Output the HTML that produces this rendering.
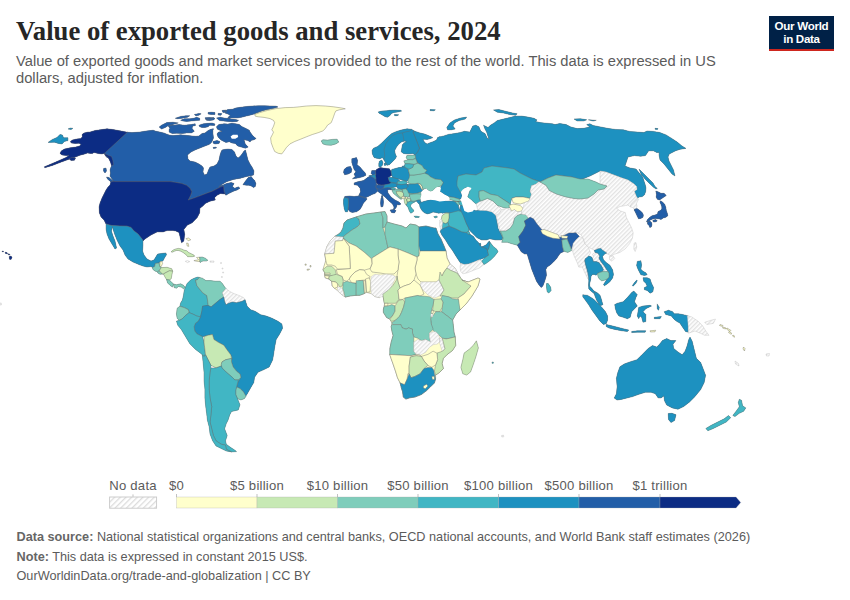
<!DOCTYPE html>
<html><head><meta charset="utf-8"><style>
html,body{margin:0;padding:0;background:#fff;}
body{width:850px;height:600px;position:relative;overflow:hidden;font-family:"Liberation Sans",sans-serif;}
.t{position:absolute;left:16px;top:14.8px;font-family:"Liberation Serif",serif;font-weight:700;font-size:26.7px;line-height:32px;color:#262626;white-space:nowrap;letter-spacing:0px;}
.s{position:absolute;left:16px;top:52.5px;font-size:14.72px;line-height:17.5px;color:#5b5b5b;white-space:nowrap;}
.f{position:absolute;left:16.5px;font-size:12.7px;line-height:15px;color:#5b5b5b;white-space:nowrap;}
.f b{font-weight:700;color:#666;}
.logo{position:absolute;left:769px;top:16px;width:65px;height:33.2px;background:#002147;border-bottom:2.6px solid #ce261e;color:#fff;font-weight:700;font-size:11.6px;line-height:12.2px;text-align:center;}
.logo div{padding-top:4.3px;letter-spacing:-0.3px;}
svg{position:absolute;left:0;top:0;}
.c{stroke:#6a6a6a;stroke-opacity:.8;stroke-width:.5;stroke-linejoin:round;}
.lg{font-family:"Liberation Sans",sans-serif;font-size:13.1px;letter-spacing:.25px;fill:#5b5b5b;}
</style></head><body>
<div class="t">Value of exported goods and services, 2024</div>
<div class="s">Value of exported goods and market services provided to the rest of the world. This data is expressed in US<br>dollars, adjusted for inflation.</div>
<div class="logo"><div>Our World<br>in Data</div></div>
<svg width="850" height="600" viewBox="0 0 850 600">
<defs><pattern id="hatch" patternUnits="userSpaceOnUse" width="3" height="3" patternTransform="rotate(45)"><rect width="3" height="3" fill="#fff"/><rect x="0" y="0" width="1.35" height="3" fill="#e2e2e2"/></pattern><pattern id="hatch2" patternUnits="userSpaceOnUse" width="4" height="4" patternTransform="rotate(45)"><rect width="4" height="4" fill="#fff"/><rect x="0" y="0" width="1.3" height="4" fill="#dcdcdc"/></pattern></defs>
<g id="map">
<clipPath id="landclip"><path d="M766.5,356 769,356 769.5,353.5 766,354ZM742.6,405.8 741.5,400.3 739.3,399.3 738.3,402.5 739.3,406.8 736.1,411.2 732.8,415.5 735,416.6 739.3,413.3 743.7,411.2 745.8,407.9ZM743,349 744.5,351 745,348.5 743.5,347ZM735.5,364 739,366 738.5,363.5 735,361ZM732.5,336 734.3,337.2 735,336.5 733,335ZM719.5,325.5 722.5,326.5 723,325.5 720,324.5ZM722.5,328 725.5,329 725.8,328.5 729.3,331 728.5,332.5 731,334.3 732,333.5 729.6,331.9 731,330.5 727,328 726.9,328.3 723,327ZM730.7,417.7 728.5,415.5 724.2,418.8 717.7,422 711.2,425.3 705.8,428.5 707.9,430.7 713.3,428.5 719.8,425.3 726.3,422ZM711.2,320.2 704.7,322.3 706.8,324.5 713.3,323.4 715.5,319.1ZM688.4,332.2 688.4,333.2 691.7,332.1 695,331 700.3,333.2 704.7,335.3 709,335.3 705.8,331 702.5,325.6 698.2,321.3 691.7,316.9 688.3,316.1 688.3,315.9 682.6,314.5 678.4,313.8 674.2,313.8 672.7,311.7 668.5,310.2 664.2,311.7 665.7,314.5 671.3,315.9 674.2,319.4 677,321.6 679.8,323 682.6,327.2 685.5,331.5ZM658.2,398 661,398 663.8,395.9 664.5,400.8 666.7,405.1 672.3,407.9 678,409.3 683.7,406.5 689.3,402.2 695,396.6 700.7,389.5 704.2,382.4 705.6,375.3 703.5,369.7 700.7,362.6 696.4,358.3 695,352.7 692.2,341.3 690,337.1 688.6,339.9 687.2,345.6 685.1,351.2 682.2,354.8 678,352 673.7,348.4 673,344.2 675.9,340.6 670.9,340.6 666.7,338.5 662.4,340.6 659.6,344.2 656.7,347 652.5,345.6 648.2,348.4 644,352.7 640.5,356.2 636.9,359.7 629.8,361.9 624.2,364 619.9,366.8 617.8,372.5 616.4,378.2 617.1,386.7 616.4,393.7 614.2,398 617.1,400.1 621.3,399.4 632.7,396.6 638.3,394.5 645.4,392.3 651.1,392.3 655.3,393.7ZM350,211.8 352.4,212.4 356.5,211.8 360,209.4 361.8,206.5 363.5,202.9 365.9,200.6 367.1,198.8 364.9,198.1 369.4,195.9 372,194.5 375,193.5 377.8,190.9 378.5,192 380,193 382,194.5 383.2,195.5 383.2,195.5 385,197 389,201 392.5,204 394,207 393.5,209.6 390,210 391.5,212.5 394.5,213 396,210.5 394.5,209.7 396.5,207 397,204.5 399,205 401,204 399,202 395,200 391,197 388,193 387.5,190 389,189.5 392.1,189.9 392.4,191.6 393.5,193.4 395.6,195.2 398.4,197.6 401.2,199.4 402.2,198.3 403,199.1 404.1,198.3 404.4,201.9 405.1,204 406.2,205.1 406.9,206.1 407.9,207.2 408.6,208.9 409.3,211.1 410.8,213.2 412.2,212.5 413.9,211.1 413.2,209.6 411.8,208.2 410.4,206.1 411.2,204.2 412.9,202.9 414.5,202.2 416.1,200.8 419.6,204.7 419.9,206.8 421,208.9 422.4,211.1 424.5,212.8 427.3,213.9 430.2,213.2 433,212.1 435.8,212.5 438.6,213.2 441.5,212.8 442.1,213.2 446.3,212.7 442,215.5 441.4,219 439.7,220.2 439.7,226 440.3,228 441,229.5 440.3,231.8 442,235.3 445.5,240 449,245.8 452.5,250.5 455.4,255.2 458.3,259.8 460.7,263.3 460.1,266.8 460.7,271.5 463,273.8 467.7,272.7 473.5,270.3 479.3,268 484,264.5 486.3,263.3 491,259.8 494.5,256.3 498,251.7 496.8,249.3 493.3,246.4 491,243.5 489.3,241.2 488.1,242.3 486.3,244.7 481.7,247 480.8,245.9 480.6,243.3 479.1,243.6 478.2,242.3 475.8,240 473.5,236.5 469.4,233.8 470,233.6 468.8,231.3 468.8,228.3 470,230.7 477,237.7 481.7,240 486.3,240 489.8,238.8 495.7,240 502.5,240 501.7,242.3 507.4,242.3 511.7,243.7 517.3,245.2 521.2,251.8 524.7,254.1 527.1,254.1 528.2,257.6 531.8,269.4 534.1,275.3 536.5,281.2 538.8,284.7 541.2,287.6 542.9,285.9 544.7,281.2 546.5,275.3 545.9,269.4 547.1,267.1 550.6,264.7 556.5,258.8 558.8,255.3 560.6,252.9 563.5,251.8 563.4,251.2 567.9,252.4 571.5,250.6 571.2,249.7 572.3,246.4 572.9,246.6 572.4,250.6 574.1,255.9 577.6,263.5 578.8,267.1 582.4,267.1 584.5,272 588,279 588.6,278.9 588.8,280.8 588.5,285 588.8,289 591.8,291.8 594.1,293.5 594.7,295.3 596.5,300 598.7,303.4 598.3,303.8 593.4,298.9 587.7,295.4 582.8,294.7 582.8,296.8 584.9,299.6 588.5,304.6 592,310.2 596.2,315.9 599.8,320.9 603.3,324.4 606.2,323.7 607.6,320.2 607.6,315.9 605.5,311.7 601.9,307.4 600.2,305.7 602.9,304.7 601.2,298.8 600,295.3 597.6,292.9 595.3,291.8 593.5,290.5 591.6,288.1 589.7,286.3 589.7,283.5 590.6,279.9 591.1,276.2 592.5,274.4 594.3,274.4 596.1,275.3 597.5,273.5 598,276.7 599.3,279 601.6,280.8 604.4,280.3 607.1,279 605.3,281.7 603.5,284.5 604.4,285.8 607.1,284 609.9,281.7 612.6,278 613.5,274.4 612.6,269.8 609.9,265.2 606.2,262.5 603.5,259.7 602.5,256.5 604.4,254.2 606,253.3 607.6,254.1 611.7,256.1 609.4,256.5 609.5,259.5 612,261.2 614.7,258.5 612.5,255.2 614.7,254.1 620,252.4 625.3,248.8 629.7,243.5 632.4,238.2 633.2,232.9 631.5,227.6 628.8,222.4 626.2,217.1 625.3,212.6 620,210.9 616.5,208.2 620,206.5 625.3,205.6 627.9,205 630.3,206.8 632.5,207.5 634.6,209.6 634,209.8 635.5,212.4 636.3,214.3 637.4,216.5 638.5,218.8 640.8,218.4 643,217.3 643.4,215 642.3,212.8 640,210.5 637,208.6 636.1,209 637,206 636.3,203.8 637.4,201.5 638.5,199.3 637.4,198.1 639.3,197 642.3,196.6 644.5,194.8 645.6,191.8 646,188 645.3,185 642.3,175.8 642.4,175.8 645,179 650,184 653.5,187.3 655.8,188.8 657.3,188.4 655,186.5 653,183 639,169 641.6,175.5 641.3,175.6 636,169 630,168 625,166 628,157.1 634.4,155.6 640.7,156.3 645.5,155.6 648.7,150.8 653.4,150.8 656.6,152.4 659,152.4 659,155 660,160 664,164 672,174 675,176 673.5,170 669,161 668,157 669.3,154 675.6,150.8 680.4,149.2 686,148.4 682,146 677.2,142.1 672.5,138.9 666.1,134.9 659.8,132.5 653.4,131.4 647.1,131 643.9,132.5 637.5,132.1 629.6,131.4 623.3,129.8 615.3,129.4 607.4,128.3 599.4,126.7 593.1,125.4 589.9,123.8 586.7,124.6 589.9,127 583.6,128.3 577.2,128.6 570.9,127 566.1,124.6 559.8,123.5 555,124.6 552.3,123.7 546.2,123.2 540.1,122.6 535.5,121.4 537,119.9 534,118.3 527.9,117.1 521.7,116.1 515.6,116.1 503.4,119.1 497.3,120.6 494.2,122.9 490.4,125.2 488.1,127.5 485,126 483.5,125.2 485,129 486.6,132.1 488.1,136.7 488.9,139 487.3,138.2 485,133.6 482,132 480.5,130.6 478.9,126.8 475.9,125.2 472.8,126 469.8,132.1 464.4,131.3 460.6,132.4 454.5,133.6 448.3,134.4 443.8,135.9 440.7,136.7 440,136.5 437.6,137.6 436.5,140 432.9,141.8 429.4,142.9 427.1,144.1 424.7,142.4 422.9,139.4 424.7,139.2 427.1,139.6 430.6,138.5 432.9,137.6 429.4,135.9 424.7,134.1 420,132.9 414.7,131.2 411.8,129.4 407.1,128.8 401.2,130 396.5,131.4 391.8,133.5 388.2,136.5 381.2,143.5 377.6,146.5 373.5,148.2 372,150.6 372.4,154.1 374.1,157.6 376.5,158.2 380,158.8 382.4,157.6 384.1,160 385.6,163.1 384,163.5 384.5,165.5 386.9,164.9 387.1,165.3 389.4,164.7 391.8,162.4 395.3,158.8 396.5,156.5 395.3,154.1 394.7,150.6 396.5,147.1 398.8,144.1 401.8,141.8 404.7,140.9 406.5,141.8 404.1,142.9 402.4,144.7 401.8,148.2 401.2,151.8 403.5,153.5 408.2,154.1 412.9,153.5 415,155 406.8,155.6 406.2,157.9 407.9,159.7 403.8,160.9 405,163.8 404.5,165.8 402,166.2 402.3,167.3 398.8,167.6 391.8,169.4 391.2,171.8 389.4,168.8 384.7,168.2 380.1,167.6 380.2,167.5 376.5,169.4 375.9,170.6 371.8,170.6 371.2,173.5 372.9,175.3 368.8,175.6 370.6,175.9 368.2,177.1 363.5,180.6 357.6,181.8 354.1,182.9 354.1,184.7 357.6,185.3 360,188.2 360.6,191.8 358.5,195.9 354.1,196.5 349.4,195.9 344.7,196.5 344.9,197.7 344.1,197.6 343.5,200 343.5,203.5 344.1,208.2 345.3,211.8 347.6,211.8 347.9,209.1ZM605.3,271.6 602.5,271.6 603.5,269.8ZM600,184 596,182 588,179 582.7,179 582.7,178.9 590,176 600,171ZM594,249.9 595.2,252.4 592.5,254.2 593.4,256.5 592.5,258.8 591.6,257 588.5,256 590.6,252.9 588.2,247.1ZM577.6,232.9 581.2,234.7 582.9,238.2 579.4,236.5 575.5,232.5ZM520.2,204.1 524.4,202.7 523,208.3 520.2,205.5 517.3,204.8 513.1,204.1 510.6,204.9 510.2,204.1 511.7,198.4 513.1,202.7 515.9,203.4ZM501.7,209.7 497.5,205.5 503.2,207.6 507.4,208.3ZM509.8,207.5 510.2,208.3 511.7,211.2 507.4,208.3ZM499.8,232 498,228.3 497.3,224.3 498.1,224.1 500.5,231.7ZM479.3,259.8 485.2,257.5 481.7,261ZM464.9,187.8 465.7,187.9 467.9,186.8 471.5,188 470.3,190.3 470,190.4 469.2,192.7 467.7,197 472,200.5 476.2,204.1 477.9,210.4 475.8,210.8 473.8,210 472.6,211.5 467.9,212.6 464.4,210.9 463.2,207.4 462.1,203.8 461.2,201.2 460.9,201.5 459.1,199.1 460.9,199 462.1,195.6 460.9,192.1 462.6,189.7 464.2,188.7ZM458.5,205.5 459.5,204 460.7,205.9 459.8,207.2 460.7,210.1 460.4,210.2 458.5,207.4ZM420.5,198.8 420.3,198.5 421.2,195.6 421.3,194.4 420.9,192.1 423.2,189.7 423.2,189.7 423.8,189.1 426.2,188.5 427.9,190.3 430.3,191.5 432.6,190.9 435,188.5 435.3,188.4 435.2,188.2 437.5,186.9 438.4,187 441.5,185.6 440.4,187.5 441,188.8 440.3,189.1 440.9,189.7 440,191 441.5,192.5 442.6,193.3 444.4,194.4 447.9,196.2 448,196.3 449.1,196.8 449.2,197.5 449.7,197.9 449.5,198.7 449.7,199.5 453.4,200.5 453.2,201.3 450.3,200.9 446.8,200.9 445.5,200.8 444.4,200.9 439.7,201.5 435,200.3 430.7,199.8 430.2,199.8 427.3,200.5 424.5,201.2 421.5,202.3 420.2,200.3ZM407.9,180.5 408.2,181.8 408.2,181.8 408.5,183.2 411.5,183.8 407.8,184.8 407.6,184.1 405.9,184.1 407.6,182.4 406.3,181.8ZM407.5,197.4 409.6,196.7 410.8,199.4 409,198.3 408.1,198.6ZM403.6,196.2 405.5,196.9 405.5,200.5ZM400,181.2 397.6,178.8 404.3,180.5ZM395.3,187.1 396.5,186.5 398.4,189.4 397,189.2 394.9,189.9 395.6,188.5 392.3,187.4ZM388.2,177.6 391.8,175.3 392.9,177.6ZM376.3,184.8 376.3,182.4 378.3,184.9ZM382.4,165.3 382.7,163.8 382.7,163.8 382.8,162.8 382.9,162.4 381.8,160 379.4,161.2 378.8,163.5 378.8,166.5 380.6,167.1ZM517.2,113.8 512.6,113 506.5,111.5 498.8,109.5 493.5,109.9 497.3,112.2 503.4,113 509.5,114.5 515.6,115.3ZM381.5,195.8 381.5,197.9 381,198 380.5,203 381,207 383,206.5 383.5,202 383,197.5 382.9,197.5 382.7,195.6ZM606.2,326.5 609,328 614.7,329.4 621.7,330.8 627.4,331.5 628.8,330.1 623.2,328.7 617.5,327.2 611.8,325.8 606.2,324.4ZM365.3,172.9 362.9,170.6 360,167.1 357.1,164.7 357.6,160.6 356.5,157.6 351.8,158.8 351.8,162.4 352.9,165.9 354.1,169.4 355.9,171.8 354.1,174.1 355.3,176.5 352.4,178.8 356.5,178.2 360,177.6 363.5,176.5 365.9,175.3ZM674.6,420.5 676,414.7 672,413.3 668.2,413.5 668.5,419.5 671,422.6ZM649.8,220.6 649.7,220.3 650.5,220 650.5,220 652.6,219.1 652.8,219 654.9,218.6 654.9,218.6 655,218.6 656.4,218.3 656.5,218.7 658.8,218.8 661,219.5 663.3,218 665.9,217.3 667.8,215.8 667.4,213.5 666.3,210.5 665.9,207.5 664.8,204.5 662.5,201.9 660.3,200.8 659.9,202.3 661,204.5 661.8,206.8 661.8,209 660.3,210.5 658,211.6 657.5,214 655,215 652,215.8 649.8,217.3 647.5,219.5 646.4,221.8 647.5,221.8 647.5,224 649,225.5 649.8,227.4 651.3,227 652,224.8 651.6,222.5 649.5,220.8ZM652.8,220.3 653.1,221.8 655,222.1 657.3,221 655.8,219.5ZM661.8,198.5 664,197 666.3,195.5 664,193.3 661,193.3 658,191.8 655.8,191 656.5,194.8 656.1,197 657.3,199.3 659.5,200 659.8,199.8 660.7,199.2 660.7,199.2ZM654.3,318.7 660,318.7 661.4,316.6 654.3,317.3ZM657.2,308.8 658.6,310.2 659.3,307.4 657.2,303.9ZM655,128.3 655,129.2 657.5,129.4 658,128.6ZM650.5,332 655,331.8 655.7,330.3 650,330.8ZM653.6,287.6 651.5,283.3 650.1,279.1 647.2,277.7 643,277.7 643.7,281.2 645.8,283.3 647.2,286.2 644.4,287.6 644.4,289.7 647.2,290.4 650.1,293.2 652.9,291.8ZM643,311.7 645.8,308.8 651.5,306 650.1,305.3 643,306 638.7,307.4 638,311.7 637.3,315.9 638.7,318.7 640,316 641.6,317.3 643,322.3 645.8,321.6 645.8,314.5ZM640.9,269.2 641.6,264.9 640.9,260.7 637.3,261.4 636.6,265.6 638,269.2 639.4,272 640.9,274.8 644.4,275.5 647.2,274.8 645.8,272.7 643,271.3ZM645.1,332.2 645.8,330.8 637.3,330.8 631.7,331.5 631.7,332.6 637.3,332.2ZM637.3,306 634.5,301.7 635.9,297.5 637.3,294.7 633.8,291.1 631.7,292.5 627.4,297.5 623.2,301.7 617.5,303.2 614.7,304.6 615.4,308.8 616.8,313.1 618.9,315.9 623.2,317.3 627.4,318.7 630.2,317.3 631.7,311.7 634.5,308.8ZM632.4,285.5 633.1,286.2 635.9,283.3 637.3,280.5 636.6,280.2 634.5,282.6ZM636,242.6 634.1,243 633.8,249 635.2,251.5 636.8,247ZM580.4,118.7 574,119 577.2,121 583.6,121 586.9,119.7 585.8,119.6ZM593.1,121.1 596.3,120.3 588.3,119.8ZM547.1,291.8 548.8,292.9 551.2,290.6 550.6,287.1 548.2,283.5 546.5,283.5 546.5,287.1ZM501.8,437 503.8,436.8 503.5,435.2 501.5,435.5ZM492,363.3 493.3,363.3 493.3,362 492,362ZM324.6,274.6 324.7,274.6 324.7,275.5 325.2,277.8 328.7,279 331.7,281.3 332.2,286 334.6,288.3 337.5,290.6 341,294.1 344.5,296.5 345.1,297.1 350.3,295.9 356.2,295.3 359.7,295.3 364.3,293.6 366.6,292.4 371.3,293.6 374.8,296.5 379.5,297.6 383.1,296.2 383.4,298.1 384.1,303.3 384.7,303.3 384.1,306.5 383.4,309.1 383.4,312.4 386.6,317.5 389.2,318.8 389.9,319.5 391.8,322.7 391.8,324.6 391.2,326.6 391.8,330.5 393.1,335.6 391.2,342.1 389.9,348.6 389.7,354.4 391,358.3 392.9,363.5 395.5,371.2 397.5,377.7 400.1,382.9 401.4,388.1 402.6,391.9 403.3,397.1 405.9,399.1 409.8,397.8 414.9,397.1 421.4,394.5 426.6,390.6 430.5,386.8 434.4,382.9 435.6,379 435.6,375.1 439.5,372.5 443.4,368.6 442.1,363.5 443.4,358.3 447.3,354.4 452.5,350.5 455.7,345.4 455.2,336.9 453.9,331.8 453.3,325.3 452.6,320.1 456,314 466,304 472,296 478,286 480,279 478,278 468,282 462,280 460,277 455,268 450,264 447,258 446,251 444,246 441,239 438,234 436,228 434,228 426,226 419,227 416,225 410,224 406,228 402,226 394,224 387,222 387,216 385,211.6 381,212 374,213 366,214 356,217 347,220 344,223 343,228 341,232 338,234.5 334.6,236.4 330.5,240.5 327,246.3 324.7,253.9 325.2,256.8 325.8,260.3 322.9,269.7 325.1,273.3 324.6,273.3ZM473.2,364.8 475.8,357 478.4,347.9 476.4,340.8 473.2,345.4 469.3,349.2 464.1,353.1 462.8,359.6 460.9,367.4 462.8,373.8 466.7,375.1 470.6,371.9ZM460.6,118 454.5,119.9 449.9,122.9 446.8,127.5 447.6,129.8 451.4,129.8 455.2,129 452.9,126 454.5,122.9 459.1,120.6 465.2,119.1 466.7,117.1ZM435.1,218.1 437.6,217 436.5,216 433.7,216.7ZM430,110.6 434,110.8 435.4,109.8 430,109.6ZM416.1,216.1 413.9,216.3 415.3,217.4 418.9,217.5 419.6,216.7ZM401.7,111.1 400.5,110.3 394.7,110 389.8,110.3 386.5,110.7 381.5,111.1 378.2,111.9 379.1,113.2 381.5,114.4 384.8,116.5 387.3,117.3 389.8,115.7 391.4,113.6 393.9,112.4 398,111.9ZM394.7,115.7 397.2,115.7 398.8,114.8 394.3,114.4ZM343.5,172.4 344.7,174.7 348.2,174.1 351.2,172.4 351.8,169.4 350.6,166.5 347.1,167.1 344.1,169.4ZM218,115 221,115.3 221.8,113.6 218,113.4ZM224.9,112.2 224.9,113 227.9,114.1 230.2,115.3 227.1,118.4 224.1,118 220.3,117.2 216.5,118 219.5,120.6 223.3,121 227.9,121.4 232.5,121.8 237.1,121.4 238.6,120.3 235.6,119.5 230.3,118.8 230.4,118 237.1,118 241.7,117.2 246.3,116.1 250.9,114.9 254.5,113.9 255.3,116.2 258.2,116.8 264.1,117.4 270,118.6 273.5,120.4 274.7,122.7 273.5,126.2 271.8,129.8 273.5,132.1 272.4,134.5 270.6,138 271.2,142.7 272.9,147.4 274.7,151.5 278.2,153.3 281.8,153.9 284.1,150.9 286.5,147.4 290,143.9 294.7,141.5 300.6,139.2 306.5,136.8 312.4,134.5 318.2,132.7 322.9,130.9 325.3,128.6 327.6,125.1 331.2,122.7 332.4,119.8 333.5,116.8 334.7,113.3 335.9,110.9 339.4,109.8 345.3,108.8 341.8,108 333.5,106.8 325.3,106 315.9,105.6 306.5,106 299.4,106.8 293.5,107.4 285.3,107.6 274.3,108.8 274.1,108.1 278,107 276,106.1 270,105.9 264.6,105.7 258.5,105.7 252.4,106 246.3,106.5 240.2,107.3 235.6,108 232.5,109.2 227.9,109.6 226.1,110.3 226,110 222,110.5 223,112.5ZM322.9,139.8 321.2,140.9 322.9,143.9 326.5,145.1 331.2,145.3 335.9,143.9 338.8,142.1 337.1,139.2 332.4,139.4 327.6,140.1ZM310,265.5 310,267 311,267 311,265.5ZM307,270.2 309,270 309.5,269 307,269.3ZM305,265.2 306.2,265.2 306.2,264 305,264ZM80,155.2 84,154.2 87.6,153 90.4,153.4 92.4,153.6 94,152.5 98,153.5 102,154 104.4,153.2 105.7,155.8 106,156 106.5,157 107.9,157.4 108.3,157.7 110.2,161.6 111.7,166.1 111,167 110,170 110.5,173 110,176 112.8,180.3 112.6,180.5 109,177.5 106.5,177 107.5,179 110.9,181.9 110,185 108,187 106,190 102,198 100,203 99,207 99.4,213 101,217 104,220 106,224 106,229 107,234 109,239 112.6,245 115,249 116.6,248 115,241 113,236 111.4,231 112.4,227.2 114.6,234 117,240 120,246 123,250 125,255 128,259 133,262 139,264.6 143,266 147,267 151,266.6 152.4,267.6 152.9,269.4 155.3,271.2 157.6,271.8 157.8,273 160,274.3 162.9,274.1 163.4,273.9 164.7,276.5 166.5,279.5 167.6,282.9 170,285.3 172.4,287.1 173.5,284.1 171,281.5 169.4,280 171.2,278.8 171.8,275.3 172.7,271.2 171.8,268.8 167.1,267.3 160.7,267.6 162.6,263.5 161.8,261.2 162.9,261 164.7,257.6 166.5,254.7 165.9,252.9 161.2,253.5 157.6,254.1 154,260 151,261 147,259 144,255 142.6,251 143,245 143,241 145,239 151,235 157,232 163,232 167,230.6 173,230.5 175.7,231 179,232.6 180.6,239.2 181.6,242.8 183.9,240.9 184.1,239.1 184.1,239.1 184.7,234.3 183.9,229.4 187.2,225.2 192.2,222.8 197.1,217.8 199.6,212.9 200,208.2 202.9,205.9 205.3,203.5 210,201.2 215.3,200 214.7,197.6 217.1,195.3 220.6,193.5 225.3,194.1 225.9,195.3 228.8,193.5 233.5,191.2 237.1,190 240,188.2 238.2,186.8 234.7,188.2 232.4,186.5 234.1,183.5 231.2,182.4 226.5,183.5 221.7,185.7 221.3,184.9 226.5,181.8 233.5,179.4 240.6,178.2 246.5,176.5 250.7,175.8 250.6,175.7 253.5,175 254,171 252,167 250,164 248,160 245.5,150 244,151 242,154 240,156.5 238,158 236,156 234.5,152 232,149.5 228,149 224,149.5 222,150 221,152 220,155 219,160 217,164 214,166 210,167 208.5,170 207,174 204.5,175 203,172 203.5,168 202,166 199,164 195,162 190,161 188,159 187.5,155 191,152 195,150 205,146 209,144.5 211,143 212,141.5 213.5,138 213,134 212.9,130.6 213.5,128.8 211.2,129.1 208.1,130.6 205,132.9 202,133.6 198.9,135.9 195.9,136.3 192,135.9 188.2,135.6 184.4,135.2 180.6,134.8 176.8,135.2 172.9,135.6 169.9,135.2 167.6,134.4 163.8,132.9 159.9,132.1 156.1,131.3 153.1,130.2 150,130.6 146,131 140,132 132,132.6 127.5,132.2 120,130.8 113,129.5 107,128.8 100,129.8 95,130.5 90,132 88,132 84,133 82,134.6 82.4,136.6 81,138.4 76.4,139 72.4,140 70.4,141.4 71.2,143 75.2,143.4 79.2,143.2 81,144.4 79.6,146 75.6,147 70,147.8 64.4,149 61.2,151 60,153.4 62,155 66,155.6 69,155.4 66,157.4 58,161 51,164 44.4,166.8 44.8,167.8 52.4,165.4 60,162.6 69,159.2 69.5,159 71,160.6 74.4,160.2 75.6,158.2 73.6,157.7ZM174.1,287.6 176.5,288.2 178.5,286.5 181.2,287.1 183.5,288.8 185.3,287.6 184.1,291 183.5,295.3 182.4,300 180.6,303 179.9,306.2 177.1,308.3 176.8,311 176.4,314 177.1,318.2 179.2,320.4 176.4,321.1 177.8,325.3 181.3,329.6 185.6,336.7 189.8,343.7 195.5,349.4 201.2,353.7 202.3,354.8 203.2,363.6 204,372.2 204,380.7 204.9,389.3 204.9,397.9 205.7,406.5 206.6,413.3 207.4,420.2 209.2,427 210,433.9 212.6,440.8 216,445.9 221.2,448.5 226.3,451 231.5,451.9 236.6,451.6 234.9,450.2 229.7,446.8 226.3,444.2 225.5,440.8 227.2,435.6 224.6,428.8 226.3,423.6 228,420.2 229.7,415 231.5,411.6 238.3,409.9 240,404.7 237.5,398.7 240.9,399.9 244.3,398.7 246,396.2 245.8,395.9 246.9,394.5 250.3,388.4 253.8,382.4 254.6,377.3 258,372.2 264,369.6 269.2,367 272.6,360.1 273.5,355 274.8,346.6 276.2,339.5 279.8,333.8 282.6,328.2 281.9,323.9 277.6,321.1 272,318.2 266.3,316.1 260.7,314.7 255,311.2 250.7,309.7 247.2,306.2 245.1,299.8 243.7,297.7 239.4,295.6 233.7,293.5 229.5,291.3 226,288.5 224.7,287.1 222.4,283.5 220,281.2 215.3,281.2 210.6,280.6 205.9,280.6 202.4,278.2 199.4,277.4 197.6,277.1 194.1,278.2 190.6,280 187.1,283.5 185.3,287.6 183.5,285.3 180.6,283.8 176.5,284.7 173.5,284.1ZM210.9,367.9 210.9,365.3 216,367.9ZM204,340.4 203.5,340.4 202.6,336.7 204,336.3ZM188.2,240.8 190.8,239.8 188.5,238 186,238.6ZM248.2,177.6 245.3,181.2 242.9,184.7 246.5,185.3 248.8,185.3 251.2,185.9 253.5,187.6 255.3,186.5 255.9,183.5 254.7,180.6 252.9,178.8 251.2,176.5ZM213,143 215,144 219,143.5 220,141.5 217,140.5 213,141.5ZM225.9,142.4 229.4,141.8 231.8,142.9 235.3,143.5 237.6,145.9 241.2,147.1 245.3,148.2 248.2,147.1 245.3,144.1 244,139.8 247.8,140.5 250.1,142 250.9,140.5 253.9,139.8 256.2,138.6 254.7,137.5 252.4,135.2 250.1,132.1 249.3,130.2 245.5,128.3 241.7,126.4 239.4,124.5 235.6,123.7 231.8,123.3 227.9,124.1 224.1,123.7 218.8,124.5 216.5,126.8 217.2,129.1 220.3,130.6 222,131.5 218.5,132 217,134 218,137 221,140 224,141.5ZM231.8,138.8 230.6,136.5 232.9,134.7 237.6,134.7 238.2,137.1 235.3,138.8ZM222.6,273 223.6,273 223.6,272 222.6,272ZM222,269 223,269 223,268 222,268ZM221.4,277.5 222.4,277.5 222.4,276.5 221.4,276.5ZM220.5,263.5 221.5,263.5 221.5,262.5 220.5,262.5ZM213.5,148.5 216.5,148 216,147 213,147.5ZM211.2,114.5 215,114.5 215,112.5 211.2,112.2 208,112.5 208,114ZM206.2,119.8 206.6,120.3 209.6,120.6 213.5,119.9 215,118.5 213.5,117.6 212.4,117.7 209,117.4 205,117.8 206,119.8ZM212,123 208.1,123.3 203.5,123.7 198.9,125.2 199.7,126.8 202,127.5 205,127.5 208.1,126.8 209.6,125.2 214.5,125.5 215,124ZM210,262.2 214,262.2 214,261 210,261ZM200.4,262.7 201.2,261.6 203.2,261.1 206.3,261.1 207.9,260.3 205.3,258.2 202.2,257 199.6,257.2 196.5,257.5 197.5,258.5 198.6,259.8 195.5,260.3 193.9,260.6 195.5,261.1 198.1,261.4 199.9,261.6ZM198.9,113.4 194.3,114.5 195.9,115.7 198.9,115.3 201.2,113.8ZM182.1,118.3 185.4,117.6 185.4,117.6 187.5,117.2 189.8,115.7 185.9,115.7 180.6,116.4 175.2,118.3 177.5,118.7ZM180.6,120.3 182.9,121 186.7,121.4 191.3,121 195.9,120.6 199.7,120.3 199.7,118.3 196.6,117.2 193.6,118.3 189.8,118.7 184.4,118.7ZM159.2,127.1 161.5,129.1 165.3,127.5 168.1,125.7 169.9,128.3 169.1,129.8 169.1,132.1 172.2,133.6 176.8,133.3 182.1,133.6 186.7,132.9 191.3,132.9 194.3,131.3 192,128.3 192.8,126 195.5,125.5 195.1,123.7 191.3,124.5 188.2,124.8 184.4,125.2 179.1,124.5 172.9,125.2 172.8,124.5 178.3,122.9 172.9,122.2 166.8,122.6 161.5,125.2ZM187.7,256.7 192.4,256.7 194.7,256.2 193.9,255.1 191.3,253.8 188.7,252.5 186.7,250.7 184.1,250.2 181.5,248.9 178.4,248.4 175.8,248.9 173.2,250 171.1,251.8 172.1,252.3 174.2,251.3 176.3,250.5 178.4,250.5 181,251.3 183.5,252.8 185.6,254.4 187.2,255.9ZM187.5,262.6 189.8,261.6 187.5,260.6 185.2,261.3ZM187.2,246 188.8,246.4 188.2,243.4 186.6,243ZM106,168 103.6,168.5 103.5,171 105,173 106.5,171ZM71,129.4 73,128.4 70.4,128 68,129ZM60,134.4 57,137.4 52.4,139.4 48,142.4 54.4,142.2 58.4,143.4 62,144 64.4,141.4 68,140.6 68,137.8 63.6,137.8 62.4,135ZM2,251.7 3.3,251.9 3.3,251.9 3.3,251.9 3.4,251.7 3.5,251.2 2,251ZM5.5,253.4 8,253.9 8,254.6 9.8,255 10,254.2 7.5,253.7 7,252.6 5,252.2ZM9.2,256.5 9.5,259.2 11,259.5 12,257.5 11,256 9.4,256.4 9.4,256.4ZM0,305 1.3,305 1.3,303 0,303Z" clip-rule="evenodd"/></clipPath>
<g clip-path="url(#landclip)"><path d="M127.5,132.2 120,130.8 113,129.5 107,128.8 100,129.8 95,130.5 90,132 88,132 84,133 82,134.6 82.4,136.6 81,138.4 76.4,139 72.4,140 70.4,141.4 71.2,143 75.2,143.4 79.2,143.2 81,144.4 79.6,146 75.6,147 70,147.8 64.4,149 61.2,151 60,153.4 62,155 66,155.6 69,155.4 66,157.4 58,161 51,164 44.4,166.8 44.8,167.8 52.4,165.4 60,162.6 69,159.2 74.4,157.4 80,155.2 84,154.2 87.6,153 90.4,153.4 92.4,153.6 94,152.5 98,153.5 102,154 104.5,153.2 106,155 110,156 112.5,157 113,161 114,165 112.5,165 111.5,161 110,158 106.5,157 104.5,154.5Z" fill="#0c2c84" stroke="#0c2c84" stroke-width="1.6"/>
<path d="M69,158.6 72.4,157.4 75.6,158.2 74.4,160.2 71,160.6Z" fill="#0c2c84" stroke="#0c2c84" stroke-width="1.6"/>
<path d="M48,142.4 52.4,139.4 57,137.4 60,134.4 62.4,135 63.6,137.8 68,137.8 68,140.6 64.4,141.4 62,144 58.4,143.4 54.4,142.2ZM68,129 70.4,128 73,128.4 71,129.4Z" fill="#1d91c0" stroke="#1d91c0" stroke-width="1.6"/>
<path d="M127.5,132.2 132,132.6 140,132 146,131 150,130.6 153.1,130.2 156.1,131.3 159.9,132.1 163.8,132.9 167.6,134.4 169.9,135.2 172.9,135.6 176.8,135.2 180.6,134.8 184.4,135.2 188.2,135.6 192,135.9 195.9,136.3 198.9,135.9 202,133.6 205,132.9 208.1,130.6 211.2,129.1 213.5,128.8 212.9,130.6 213,134 213.5,138 212,141.5 211,143 209,144.5 205,146 200,148 195,150 191,152 187.5,155 188,159 190,161 195,162 199,164 202,166 203.5,168 203,172 204.5,175 207,174 208.5,170 210,167 214,166 217,164 219,160 220,155 221,152 222,150 224,149.5 228,149 232,149.5 234.5,152 236,156 238,158 240,156.5 242,154 244,151 245.5,150 246.5,154 248,160 250,164 252,167 254,171 253.5,175 250,175.9 246.5,176.5 240.6,178.2 233.5,179.4 226.5,181.8 220.6,185.3 218.8,186.5 221.8,185.6 226.5,183.5 231.2,182.4 234.1,183.5 232.4,186.5 234.7,188.2 238.2,186.8 240,188.2 237.1,190 233.5,191.2 228.8,193.5 225.9,195.3 225.3,194.1 224.1,191.8 223.5,186.1 220.6,187.1 217.1,188.8 212.4,191.2 207.6,192.9 202.9,194.7 198.2,196.5 193.5,198.2 188.2,200 190.6,195.3 191.8,191.8 190,188.2 186.5,185.3 181.8,183.5 175.9,182.4 170,181.6 150,181.6 130,181.6 114.5,181.6 112,179 110,176 110.5,173 110,170 111,167 112.5,165 111.5,161 110,158 106.5,157 104.5,153.2ZM242.9,184.7 245.3,181.2 248.2,177.6 251.2,176.5 252.9,178.8 254.7,180.6 255.9,183.5 255.3,186.5 253.5,187.6 251.2,185.9 248.8,185.3 246.5,185.3ZM106.5,177 109,177.5 112,180 114,182.5 111,182 107.5,179ZM103.6,168.5 106,168 106.5,171 105,173 103.5,171ZM159.2,127.1 161.5,125.2 166.8,122.6 172.9,122.2 178.3,122.9 172.9,124.5 168.3,125.6 165.3,127.5 161.5,129.1ZM168.3,126 172.9,125.2 179.1,124.5 184.4,125.2 188.2,124.8 191.3,124.5 195.1,123.7 195.5,125.5 192.8,126 192,128.3 194.3,131.3 191.3,132.9 186.7,132.9 182.1,133.6 176.8,133.3 172.2,133.6 169.1,132.1 169.1,129.8 169.9,128.3ZM175.2,118.3 180.6,116.4 185.9,115.7 189.8,115.7 187.5,117.2 182.1,118.3 177.5,118.7ZM180.6,120.3 184.4,118.7 189.8,118.7 193.6,118.3 196.6,117.2 199.7,118.3 199.7,120.3 195.9,120.6 191.3,121 186.7,121.4 182.9,121ZM194.3,114.5 198.9,113.4 201.2,113.8 198.9,115.3 195.9,115.7ZM205.8,119.1 209.6,118 213.5,117.6 215,118.5 213.5,119.9 209.6,120.6 206.6,120.3ZM208,112.5 211.2,112.2 215,112.5 215,114.5 211.2,114.5 208,114ZM218,113.4 221.8,113.6 221,115.3 218,115ZM205,117.8 209,117.4 213.4,117.8 211,119.3 206,119.8ZM198.9,125.2 203.5,123.7 208.1,123.3 212,123 215,124 214.5,125.5 209.6,125.2 208.1,126.8 205,127.5 202,127.5 199.7,126.8ZM216.5,118 220.3,117.2 224.1,118 229.5,118.7 235.6,119.5 238.6,120.3 237.1,121.4 232.5,121.8 227.9,121.4 223.3,121 219.5,120.6ZM224.9,110.7 227.9,109.6 232.5,109.2 235.6,108 240.2,107.3 246.3,106.5 252.4,106 258.5,105.7 264.6,105.7 270,105.9 276,106.1 278,107 273,108.4 268,109.4 266.2,109.8 262.3,110.7 258.5,112.2 254.7,113.8 250.9,114.9 246.3,116.1 241.7,117.2 237.1,118 231.8,118 227.9,117.6 230.2,115.3 227.9,114.1 224.9,113ZM222,110.5 226,110 226.5,112 223,112.5ZM216.5,126.8 218.8,124.5 224.1,123.7 227.9,124.1 231.8,123.3 235.6,123.7 239.4,124.5 241.7,126.4 245.5,128.3 249.3,130.2 250.1,132.1 252.4,135.2 254.7,137.5 256.2,138.6 253.9,139.8 250.9,140.5 250.1,142 247.8,140.5 244,139.8 245.3,144.1 248.2,147.1 245.3,148.2 241.2,147.1 237.6,145.9 235.3,143.5 231.8,142.9 229.4,141.8 225.9,142.4 224,141.5 221,140 218,137 217,134 218.5,132 222,131.5 220.3,130.6 217.2,129.1ZM213,141.5 217,140.5 220,141.5 219,143.5 215,144 213,143ZM213,147.5 216,147 216.5,148 213.5,148.5Z" fill="#225ea8" stroke="#225ea8" stroke-width="1.6"/>
<path d="M104.4,153.2 107.6,155.1 111.5,156.4 112.8,160.3 113.5,164.8 111.5,165.5 110.2,161.6 108.3,157.7 105.7,155.8Z" fill="#0c2c84" stroke="#0c2c84" stroke-width="1.6"/>
<path d="M111,181.6 114.5,181.6 130,181.6 150,181.6 170,181.6 175.9,182.4 181.8,183.5 186.5,185.3 190,188.2 191.8,191.8 190.6,195.3 188.2,200 193.5,198.2 198.2,196.5 202.9,194.7 207.6,192.9 212.4,191.2 217.1,188.8 220.6,187.1 223.5,186.1 224.1,191.8 225.3,194.1 220.6,193.5 217.1,195.3 214.7,197.6 215.3,200 210,201.2 205.3,203.5 202.9,205.9 200,208.2 199.6,212.9 197.1,217.8 192.2,222.8 187.2,225.2 183.9,229.4 184.7,234.3 183.9,240.9 181.6,242.8 180.6,239.2 179,232.6 175.7,231 173,230.5 167,230.6 163,232 157,232 151,235 145,239 143,241 142,239 138,234 134,231 131,227.4 127,226.2 120,226 111,225.4 106,224 104,220 101,217 99.4,213 99,207 100,203 102,198 104,194 106,190 108,187 110,185Z" fill="#0c2c84" stroke="#0c2c84" stroke-width="1.6"/>
<path d="M106,224 111,225.4 120,226 127,226.2 131,227.4 134,231 138,234 142,239 143,241 143,245 142.6,251 144,255 147,259 151,261 154,260 157.6,254.1 161.2,253.5 165.9,252.9 166.5,254.7 164.7,257.6 162.9,261 161.8,261.2 160,261.8 158.8,262.9 155.3,263.5 154.7,266.5 152.4,267.6 151,266.6 147,267 143,266 139,264.6 133,262 128,259 125,255 123,250 120,246 117,240 114.6,234 113,229 112.6,226.6 111.4,231 113,236 115,241 116.6,248 115,249 112.6,245 109,239 107,234 106,229Z" fill="#1d91c0" stroke="#1d91c0" stroke-width="1.6"/>
<path d="M160,261.8 161.8,261.2 162.6,263.5 161.2,266.5 159.8,266.8Z" fill="#ffffcc" stroke="#ffffcc" stroke-width="1.6"/>
<path d="M155.3,263.5 158.8,262.9 159.8,266.8 161.2,267.6 159.4,270.6 157.6,271.8 155.3,271.2 152.9,269.4 152.4,267.6 154.7,266.5Z" fill="#7fcdbb" stroke="#7fcdbb" stroke-width="1.6"/>
<path d="M157.6,271.8 159.4,270.6 160.6,272.4 162.9,274.1 160,274.3 157.8,273Z" fill="#7fcdbb" stroke="#7fcdbb" stroke-width="1.6"/>
<path d="M161.2,267.6 167.1,267.3 171.8,268.8 172.7,271.2 169.4,270.8 165.3,272.9 162.9,274.1 160.6,272.4 159.4,270.6Z" fill="#c7e9b4" stroke="#c7e9b4" stroke-width="1.6"/>
<path d="M163.5,274.1 165.3,272.9 169.4,270.8 172.7,271.2 171.8,275.3 171.2,278.8 169.4,280 166.5,279.5 164.7,276.5Z" fill="#c7e9b4" stroke="#c7e9b4" stroke-width="1.6"/>
<path d="M166.5,279.5 169.4,280 171,281.5 173.5,284.1 172.4,287.1 170,285.3 167.6,282.9Z" fill="#7fcdbb" stroke="#7fcdbb" stroke-width="1.6"/>
<path d="M173.5,284.1 176.5,284.7 180.6,283.8 183.5,285.3 185.3,287.6 183.5,288.8 181.2,287.1 178.5,286.5 176.5,288.2 174.1,287.6Z" fill="#7fcdbb" stroke="#7fcdbb" stroke-width="1.6"/>
<path d="M171.1,251.8 173.2,250 175.8,248.9 178.4,248.4 181.5,248.9 184.1,250.2 186.7,250.7 188.7,252.5 191.3,253.8 193.9,255.1 194.7,256.2 192.4,256.7 189.8,256.7 187.7,256.7 187.2,255.9 185.6,254.4 183.5,252.8 181,251.3 178.4,250.5 176.3,250.5 174.2,251.3 172.1,252.3Z" fill="#c7e9b4" stroke="#c7e9b4" stroke-width="1.6"/>
<path d="M196.5,257.5 199.6,257.2 199.9,259 199.9,261.6 198.1,261.4 195.5,261.1 193.9,260.6 195.5,260.3 198.6,259.8 197.5,258.5ZM186,238.6 188.5,238 190.8,239.8 188.2,240.8ZM186.6,243 188.2,243.4 188.8,246.4 187.2,246Z" fill="#ffffcc" stroke="#ffffcc" stroke-width="1.6"/>
<path d="M185.2,261.3 187.5,260.6 189.8,261.6 187.5,262.6ZM220.5,262.5 221.5,262.5 221.5,263.5 220.5,263.5ZM222,268 223,268 223,269 222,269ZM222.6,272 223.6,272 223.6,273 222.6,273ZM221.4,276.5 222.4,276.5 222.4,277.5 221.4,277.5Z" fill="#fff" stroke="#fff" stroke-width="1.6"/>
<path d="M199.6,257.2 202.2,257 205.3,258.2 207.9,260.3 206.3,261.1 203.2,261.1 201.2,261.6 200.4,262.7 199.9,261.6 199.9,259Z" fill="#7fcdbb" stroke="#7fcdbb" stroke-width="1.6"/>
<path d="M210,261 214,261 214,262.2 210,262.2Z" fill="#fff" stroke="#fff" stroke-width="1.6"/>
<path d="M185.3,287.6 187.1,283.5 190.6,280 194.1,278.2 197.6,277.1 199.4,277.4 197.1,280 195.5,280 196.9,285.7 202.6,292.7 206.8,295.6 207.5,299.8 208.2,305.5 206.8,305.5 202.6,306.2 201.9,311.2 200.5,316.8 196.9,316.1 192.7,314 189.1,312.6 188.4,309.7 184.2,307.6 179.9,306.2 180.6,303 182.4,300 183.5,295.3 184.1,291Z" fill="#41b6c4" stroke="#41b6c4" stroke-width="1.6"/>
<path d="M199.4,277.4 202.4,278.2 205.9,280.6 210.6,280.6 215.3,281.2 220,281.2 222.4,283.5 224.7,287.1 226,288.5 222.4,292.7 223.8,297 219.6,299.8 215.3,303.4 211.1,306.9 208.2,305.5 207.5,299.8 206.8,295.6 202.6,292.7 196.9,285.7 195.5,280 197.1,280Z" fill="#7fcdbb" stroke="#7fcdbb" stroke-width="1.6"/>
<path d="M222.4,292.7 226,288.5 229.5,291.3 233.7,293.5 239.4,295.6 243.7,297.7 245.1,299.8 242.2,301.2 236.6,302.7 232.3,302 228.1,303.4 226,304.8 224.5,301.2 223.8,297Z" fill="#fff" stroke="#fff" stroke-width="1.6"/>
<path d="M202.6,306.2 206.8,305.5 208.2,305.5 211.1,306.9 215.3,303.4 219.6,299.8 223.8,297 224.5,301.2 226,304.8 228.1,303.4 232.3,302 236.6,302.7 242.2,301.2 245.1,299.8 247.2,306.2 250.7,309.7 255,311.2 260.7,314.7 266.3,316.1 272,318.2 277.6,321.1 281.9,323.9 282.6,328.2 279.8,333.8 276.2,339.5 274.8,346.6 273.5,355 272.6,360.1 269.2,367 264,369.6 258,372.2 254.6,377.3 253.8,382.4 250.3,388.4 246.9,394.5 245.6,396.2 243.5,391.9 240,388.4 236.6,387 238,382.4 240.9,377.3 240,373.9 236.6,371.3 233.2,367 231.5,361.9 231.5,358.4 232.3,359.3 230.9,355.1 226.7,349.4 223.8,345.2 218.2,342.3 213.9,339.5 212.5,334.5 208.2,335.2 202.6,336.7 196.9,333.8 194.8,331 194.1,326.7 195.5,323.2 198.3,321.1 200.5,316.8 201.9,311.2Z" fill="#1d91c0" stroke="#1d91c0" stroke-width="1.6"/>
<path d="M177.1,308.3 179.9,306.2 184.2,307.6 188.4,309.7 189.1,312.6 185.6,315.4 182,319 179.2,320.4 177.1,318.2 176.4,314 176.8,311Z" fill="#7fcdbb" stroke="#7fcdbb" stroke-width="1.6"/>
<path d="M176.4,321.1 179.2,320.4 182,319 185.6,315.4 189.1,312.6 192.7,314 196.9,316.1 200.5,316.8 198.3,321.1 195.5,323.2 194.1,326.7 194.8,331 196.9,333.8 202.6,336.7 204,342.3 204.7,348 205.4,353.7 204,356.5 201.2,353.7 195.5,349.4 189.8,343.7 185.6,336.7 181.3,329.6 177.8,325.3Z" fill="#41b6c4" stroke="#41b6c4" stroke-width="1.6"/>
<path d="M204,336.7 208.2,335.2 212.5,334.5 213.9,339.5 218.2,342.3 223.8,345.2 226.7,349.4 230.9,355.1 231.5,358.4 225.5,359.8 222,361.9 221.2,366.1 216,367.9 210.9,365.3 205.7,355 205.4,353.7 204.7,348 204,342.3Z" fill="#c7e9b4" stroke="#c7e9b4" stroke-width="1.6"/>
<path d="M222,361.9 225.5,359.8 231.5,358.4 231.5,361.9 233.2,367 236.6,371.3 240,373.9 240.9,377.3 238.3,379.9 234.9,379.9 232.3,377.3 226.3,372.2 222,367.9 221.2,364.4Z" fill="#7fcdbb" stroke="#7fcdbb" stroke-width="1.6"/>
<path d="M236.6,387 240,388.4 243.5,391.9 246,396.2 244.3,398.7 240.9,399.9 237.5,398.7 235.7,394.5 235.7,390.2Z" fill="#7fcdbb" stroke="#7fcdbb" stroke-width="1.6"/>
<path d="M210.9,367.9 216,367.9 221.2,366.1 222,367.9 226.3,372.2 232.3,377.3 234.9,379.9 238.3,379.9 236.6,387 235.7,390.2 235.7,394.5 237.5,398.7 240,404.7 238.3,409.9 231.5,411.6 229.7,415 228,420.2 226.3,423.6 224.6,428.8 227.2,435.6 225.5,440.8 226.3,444.2 229.7,446.8 234.9,450.2 236.6,451.6 231.5,451.9 226.3,449.3 225.5,445.1 221.2,444.2 216,440.8 213.4,435.6 211.7,428.8 210,421.9 210.9,415 211.7,406.5 210,397.9 209.2,389.3 209.2,380.7 210,372.2Z" fill="#41b6c4" stroke="#41b6c4" stroke-width="1.6"/>
<path d="M202.3,355 204,356.5 205.7,355 210.9,365.3 210.9,367.9 210,372.2 209.2,380.7 209.2,389.3 210,397.9 211.7,406.5 210.9,415 210,421.9 211.7,428.8 213.4,435.6 216,440.8 221.2,444.2 225.5,445.1 226.3,449.3 231.5,451.9 226.3,451 221.2,448.5 216,445.9 212.6,440.8 210,433.9 209.2,427 207.4,420.2 206.6,413.3 205.7,406.5 204.9,397.9 204.9,389.3 204,380.7 204,372.2 203.2,363.6Z" fill="#41b6c4" stroke="#41b6c4" stroke-width="1.6"/>
<path d="M254.7,114.5 259.4,112.7 267.6,110.4 275.9,108.6 285.3,107.6 293.5,107.4 299.4,106.8 306.5,106 315.9,105.6 325.3,106 333.5,106.8 341.8,108 345.3,108.8 339.4,109.8 335.9,110.9 334.7,113.3 333.5,116.8 332.4,119.8 331.2,122.7 327.6,125.1 325.3,128.6 322.9,130.9 318.2,132.7 312.4,134.5 306.5,136.8 300.6,139.2 294.7,141.5 290,143.9 286.5,147.4 284.1,150.9 281.8,153.9 278.2,153.3 274.7,151.5 272.9,147.4 271.2,142.7 270.6,138 272.4,134.5 273.5,132.1 271.8,129.8 273.5,126.2 274.7,122.7 273.5,120.4 270,118.6 264.1,117.4 258.2,116.8 255.3,116.2Z" fill="#ffffcc" stroke="#ffffcc" stroke-width="1.6"/>
<path d="M321.2,140.9 322.9,139.8 327.6,140.1 332.4,139.4 337.1,139.2 338.8,142.1 335.9,143.9 331.2,145.3 326.5,145.1 322.9,143.9Z" fill="#7fcdbb" stroke="#7fcdbb" stroke-width="1.6"/>
<path d="M414.7,131.2 420,132.9 424.7,134.1 429.4,135.9 432.9,137.6 430.6,138.5 427.1,139.6 424.7,139.2 422.9,139.4 424.7,142.4 427.1,144.1 429.4,142.9 432.9,141.8 436.5,140 437.6,137.6 440,136.5 440.7,136.7 443.8,135.9 448.3,134.4 454.5,133.6 460.6,132.4 464.4,131.3 469.8,132.1 472.8,126 475.9,125.2 478.9,126.8 480.5,130.6 482,132 485,133.6 487.3,138.2 488.9,139 488.1,136.7 486.6,132.1 485,129 483.5,125.2 485,126 488.1,127.5 490.4,125.2 494.2,122.9 497.3,120.6 503.4,119.1 509.5,117.6 515.6,116.1 521.7,116.1 527.9,117.1 534,118.3 537,119.9 535.5,121.4 540.1,122.6 546.2,123.2 552.3,123.7 555,124.6 559.8,123.5 566.1,124.6 570.9,127 577.2,128.6 583.6,128.3 589.9,127 586.7,124.6 589.9,123.8 593.1,125.4 599.4,126.7 607.4,128.3 615.3,129.4 623.3,129.8 629.6,131.4 637.5,132.1 643.9,132.5 647.1,131 653.4,131.4 659.8,132.5 666.1,134.9 672.5,138.9 677.2,142.1 682,146 686,148.4 680.4,149.2 675.6,150.8 669.3,154 668,157 669,161 671,165 673.5,170 675,176 672,174 668,169 664,164 660,160 659,155 659,152.4 656.6,152.4 653.4,150.8 648.7,150.8 645.5,155.6 640.7,156.3 634.4,155.6 628,157.1 625,166 630,168 636,169 640,174 643,178 645.3,185 646,188 645.6,191.8 644.5,194.8 642.3,196.6 639.3,197 637.4,198.1 636.3,196.3 634.8,192.5 634.4,191 637,189.5 636.6,186.5 634,184 628,180 622,178 614,175 606,172 600,171 590,176 580,180 572,177 564,176 556,175 548,178 540,182 538,181 532,179 526,176 520,173 514,169 508,168 500,167 492,166 484,168 482,172 476,175 466,174 458,176 457,182 460,186 463,188 462.6,189.7 460.9,192.1 462.1,195.6 460.9,199 459.1,199.1 453.8,197.4 449.1,196.8 445,195 441.5,192.5 439,190 441.5,185.6 443.2,182.6 440.9,179.7 435,179.1 430.3,176.8 427.9,174.4 424.4,173.2 426.8,170.3 423.8,168.5 422.1,165.6 417.9,163.2 415.6,158.5 415,155 417.6,151.8 419.4,148.2 417.6,143.5 415.3,137.6 412.9,131.8ZM446.8,127.5 449.9,122.9 454.5,119.9 460.6,118 466.7,117.1 465.2,119.1 459.1,120.6 454.5,122.9 452.9,126 455.2,129 451.4,129.8 447.6,129.8ZM574,119 580.4,118.7 586.7,119.8 583.6,121 577.2,121ZM588.3,119.8 596.3,120.3 593.1,121.1ZM655,128.3 658,128.6 657.5,129.4 655,129.2ZM493.5,109.9 498.8,109.5 506.5,111.5 512.6,113 517.2,113.8 515.6,115.3 509.5,114.5 503.4,113 497.3,112.2ZM430,109.6 435.4,109.8 434,110.8 430,110.6ZM639,169 644,174 649,179 653,183 655,186.5 657.3,188.4 655.8,188.8 653.5,187.3 650,184 645,179 641,174ZM402,166.2 404.6,165.8 405,167.4 402.4,167.6Z" fill="#1d91c0" stroke="#1d91c0" stroke-width="1.6"/>
<path d="M374.1,157.6 372.4,154.1 372,150.6 373.5,148.2 377.6,146.5 381.2,143.5 384.7,140 388.2,136.5 391.8,133.5 396.5,131.4 401.2,130 407.1,128.8 411.8,129.4 414.7,131.2 412.9,131.8 415.3,137.6 417.6,143.5 419.4,148.2 417.6,151.8 415,155 412.9,153.5 408.2,154.1 403.5,153.5 401.2,151.8 401.8,148.2 402.4,144.7 404.1,142.9 406.5,141.8 404.7,140.9 401.8,141.8 398.8,144.1 396.5,147.1 394.7,150.6 395.3,154.1 396.5,156.5 395.3,158.8 391.8,162.4 389.4,164.7 387.1,165.3 385.3,162.4 384.1,160 382.4,157.6 380,158.8 376.5,158.2ZM379.4,161.2 381.8,160 382.9,162.4 382.4,165.3 380.6,167.1 378.8,166.5 378.8,163.5ZM384,163.5 386,163 386.5,165 384.5,165.5Z" fill="#1d91c0" stroke="#1d91c0" stroke-width="1.6"/>
<path d="M351.8,158.8 356.5,157.6 357.6,160.6 357.1,164.7 360,167.1 362.9,170.6 365.3,172.9 365.9,175.3 363.5,176.5 360,177.6 356.5,178.2 352.4,178.8 355.3,176.5 354.1,174.1 355.9,171.8 354.1,169.4 352.9,165.9 351.8,162.4ZM344.1,169.4 347.1,167.1 350.6,166.5 351.8,169.4 351.2,172.4 348.2,174.1 344.7,174.7 343.5,172.4Z" fill="#225ea8" stroke="#225ea8" stroke-width="1.6"/>
<path d="M354.1,182.9 357.6,181.8 363.5,180.6 368.2,177.1 370.6,175.9 373.5,177.5 375.9,180.6 376.3,182.4 376.3,184.8 375.9,187.6 377,188 377.5,190.5 377.5,191.2 375,193.5 372,194.5 369.4,195.9 365.9,197.6 361.2,196.5 358.8,195.3 360.6,191.8 360,188.2 357.6,185.3 354.1,184.7ZM381.5,195.8 382.7,195.6 382.9,197.2 381.5,197.3Z" fill="#225ea8" stroke="#225ea8" stroke-width="1.6"/>
<path d="M344.7,196.5 349.4,195.9 354.1,196.5 358.8,195.9 363.5,197.6 367.1,198.8 365.9,200.6 363.5,202.9 361.8,206.5 360,209.4 356.5,211.8 352.4,212.4 350,211.8 348.2,209.4 348.5,206 348.5,202.4 348.2,198.2 345,198Z" fill="#225ea8" stroke="#225ea8" stroke-width="1.6"/>
<path d="M344.1,197.6 348.2,198.2 348.5,202.4 348.2,207.1 347.6,211.8 345.3,211.8 344.1,208.2 343.5,203.5 343.5,200Z" fill="#1d91c0" stroke="#1d91c0" stroke-width="1.6"/>
<path d="M377,188 380,187 384,186.5 388,186.8 390,188 391,188.1 392.1,189.9 389,189.5 387.5,190 388,193 391,197 395,200 399,202 401,204 399,205 397,204.5 396.5,207 395,209 393.5,209.5 394,207 392.5,204 389,201 385,197 382,194.5 380,193 378.5,192 377.5,190.5ZM390,210 394,209.5 396,210.5 394.5,213 391.5,212.5ZM381,198 383,197.5 383.5,202 383,206.5 381,207 380.5,203Z" fill="#225ea8" stroke="#225ea8" stroke-width="1.6"/>
<path d="M376.3,184.8 381.2,185 384.7,185.1 383.5,188.2 380.6,189.4 377.6,188.8 375.9,187.6Z" fill="#225ea8" stroke="#225ea8" stroke-width="1.6"/>
<path d="M376.5,169.4 380,167.6 384.7,168.2 389.4,168.8 391.2,171.8 391.8,175.3 388.2,177.6 389.4,181.2 390.8,182.6 389.4,184 385.9,184.6 381.2,185 377.6,184 376.3,182.4 375.9,178.8 375.3,175.3 375.3,171.8Z" fill="#0c2c84" stroke="#0c2c84" stroke-width="1.6"/>
<path d="M371.8,170.6 375.3,170.6 375.3,171.8 375.9,174.1 372.9,175.3 371.2,173.5Z" fill="#225ea8" stroke="#225ea8" stroke-width="1.6"/>
<path d="M368.8,175.6 372.9,175.3 375.9,174.1 375.3,175.3 375.9,178.8 373.5,177.5 370.6,175.9Z" fill="#1d91c0" stroke="#1d91c0" stroke-width="1.6"/>
<path d="M391.8,169.4 398.8,167.6 404.7,167.1 408.2,169.4 409.4,174.1 410,178.8 407.1,181.2 402.4,180 397.6,178.8 392.9,177.6 391.8,175.3 391.2,171.8Z" fill="#1d91c0" stroke="#1d91c0" stroke-width="1.6"/>
<path d="M388.2,177.6 392.9,177.6 397.6,178.8 400,181.2 396.5,182.9 391.8,182.4 389.4,181.2Z" fill="#1d91c0" stroke="#1d91c0" stroke-width="1.6"/>
<path d="M384.7,185.1 389.4,184 391.8,182.9 395.3,183.5 397.1,184.1 396.5,186.5 395.3,187.1 390.6,187.6 387.1,187.6 383.5,188.2Z" fill="#1d91c0" stroke="#1d91c0" stroke-width="1.6"/>
<path d="M397.6,181.2 400,181.2 403.5,180.6 407.6,182.4 405.9,184.1 401.2,184.7 397.1,184.1Z" fill="#41b6c4" stroke="#41b6c4" stroke-width="1.6"/>
<path d="M396.5,186.5 397.1,184.1 401.2,184.7 405.9,184.1 407.6,184.1 408.2,186.5 405.9,188.8 401.2,189.4 397.6,188.2Z" fill="#1d91c0" stroke="#1d91c0" stroke-width="1.6"/>
<path d="M406.8,185 411.5,183.8 415,183.8 417.9,183.2 420.3,186.2 421.5,189.1 422.6,190.3 420.9,192.1 417.4,193.2 412.6,193.8 409.1,193.2 406.8,191.5 406.2,188.5 405.9,188.8 408.2,186.5 407.6,184.1Z" fill="#1d91c0" stroke="#1d91c0" stroke-width="1.6"/>
<path d="M417.9,183.2 420.3,183.8 422.1,186.2 423.2,189.7 421.5,189.1 420.3,186.2Z" fill="#ffffcc" stroke="#ffffcc" stroke-width="1.6"/>
<path d="M409.7,175 413.8,175 418.5,174.4 424.4,173.2 427.9,174.4 430.3,176.8 435,179.1 440.9,179.7 443.2,182.6 441.5,185.6 437.4,187.4 435,188.5 432.6,190.9 430.3,191.5 427.9,190.3 426.2,188.5 423.8,189.1 423.2,189.7 422.1,186.2 420.3,183.8 417.9,183.2 415,183.8 411.5,183.8 408.5,183.2 407.9,180.3 409.1,177.9Z" fill="#7fcdbb" stroke="#7fcdbb" stroke-width="1.6"/>
<path d="M413.8,164.4 417.9,163.2 422.1,165.6 423.8,168.5 426.8,170.3 424.4,173.2 418.5,174.4 413.8,175 409.7,175 409.4,174.1 408.2,169.4 409.1,169.1 412.6,167.4Z" fill="#7fcdbb" stroke="#7fcdbb" stroke-width="1.6"/>
<path d="M406.8,155.6 415,155 415.6,157.9 412.6,159.7 407.9,159.7 406.2,157.9Z" fill="#7fcdbb" stroke="#7fcdbb" stroke-width="1.6"/>
<path d="M403.8,160.9 407.9,159.7 412.6,159.7 415.6,158.5 417.4,163.2 413.8,164.4 409.1,163.8 405,163.8Z" fill="#7fcdbb" stroke="#7fcdbb" stroke-width="1.6"/>
<path d="M405,163.8 409.1,163.8 413.8,164.4 412.6,167.4 409.1,169.1 406.2,167.9 404.4,166.2Z" fill="#41b6c4" stroke="#41b6c4" stroke-width="1.6"/>
<path d="M409.1,193.2 412.6,193.8 417.4,193.2 420.9,192.1 421.5,195.6 419.7,198.5 416.2,199.1 412.6,199.7 410.3,197.9 409.7,195.6Z" fill="#7fcdbb" stroke="#7fcdbb" stroke-width="1.6"/>
<path d="M391,188.1 393.5,187.8 395.6,188.5 394.9,189.9 392.1,189.9Z" fill="#41b6c4" stroke="#41b6c4" stroke-width="1.6"/>
<path d="M392.1,189.9 394.9,189.9 397,189.2 401.2,189.9 403.3,190.6 402.6,192 399.8,191.3 396.3,191.3 397,194.1 399.1,196.9 401.9,198.7 401.2,199.4 398.4,197.6 395.6,195.2 393.5,193.4 392.4,191.6Z" fill="#7fcdbb" stroke="#7fcdbb" stroke-width="1.6"/>
<path d="M396.3,191.3 399.8,191.3 402.6,192 403.7,193.8 403.3,196.2 401.9,198 399.8,196.9 397.7,194.8 396.6,193.1Z" fill="#c7e9b4" stroke="#c7e9b4" stroke-width="1.6"/>
<path d="M402.6,189.2 405.5,188.8 407.6,190.6 408.3,192.7 409.7,194.8 409,196.9 406.9,197.6 405.5,196.9 403.7,196.2 403.7,193.8 402.6,192Z" fill="#7fcdbb" stroke="#7fcdbb" stroke-width="1.6"/>
<path d="M401.9,196.6 403.7,196.4 404.4,198 403,199.1 401.9,198ZM405.5,196.9 407.2,196.9 407.9,198.3 406.5,199.1 405.5,198.2Z" fill="#ffffcc" stroke="#ffffcc" stroke-width="1.6"/>
<path d="M406.5,199.1 409,198.3 410.8,199.4 410.4,201.2 408.3,201.9 406.9,201.2ZM404.1,198.7 405.5,198.2 406.5,199.4 406.9,201.2 407.2,203.3 406.2,205.1 405.1,204 404.4,201.9Z" fill="#c7e9b4" stroke="#c7e9b4" stroke-width="1.6"/>
<path d="M406.2,205.1 407.2,203.3 408.3,201.9 410.4,201.2 413.2,201.2 416.1,200.8 414.5,202.2 412.9,202.9 411.2,204.2 410.4,206.1 411.8,208.2 413.2,209.6 413.9,211.1 412.2,212.5 410.8,213.2 409.3,211.1 408.6,208.9 407.9,207.2 406.9,206.1ZM413.9,216.3 416.1,216.1 419.6,216.7 418.9,217.5 415.3,217.4Z" fill="#41b6c4" stroke="#41b6c4" stroke-width="1.6"/>
<path d="M410.4,194.5 413.2,194.1 416.8,193.8 420.3,194.1 421.7,194.8 421,196.9 420.3,199.8 418.2,200.1 416.1,200.8 413.2,201.2 411.1,200.8 410.8,199.4 409.7,196.9 409.7,194.8Z" fill="#7fcdbb" stroke="#7fcdbb" stroke-width="1.6"/>
<path d="M416.1,200.8 418.2,200.1 420.3,200.5 421,201.5 419.6,202.6 419.6,203.3 421.7,202.2 424.5,201.2 427.3,200.5 430.2,199.8 434.4,199.4 438.6,199.8 442.9,200.5 446.8,200.9 450.3,200.9 455,201.5 458.5,203.8 458.5,207.4 460.9,210.9 456.2,212.6 451.5,213.2 446.8,212.6 442.1,213.2 441.5,212.8 438.6,213.2 435.8,212.5 433,212.1 430.2,213.2 427.3,213.9 424.5,212.8 422.4,211.1 421,208.9 419.9,206.8 419.6,204.7Z" fill="#1d91c0" stroke="#1d91c0" stroke-width="1.6"/>
<path d="M433.7,216.7 436.5,216 437.6,217 435.1,218.1Z" fill="#41b6c4" stroke="#41b6c4" stroke-width="1.6"/>
<path d="M449.1,196.8 453.8,197.4 459.1,199.1 460.9,201.5 457.4,201.5 452.6,200.3 449.7,199.5ZM455,201.5 458.5,201.5 459.5,204 458.5,205.5 457,203.8Z" fill="#7fcdbb" stroke="#7fcdbb" stroke-width="1.6"/>
<path d="M457.4,201.5 460.9,201.5 462,200.5 464,203.5 463.5,206 460.5,205.5 459.5,204 458.5,201.5Z" fill="#41b6c4" stroke="#41b6c4" stroke-width="1.6"/>
<path d="M356,217 366,214 374,213 381,212 385,211.6 387,216 387,222 394,224 402,226 406,228 410,224 416,225 419,227 426,226 434,228 436,228 438,234 441,239 444,246 446,251 447,258 450,264 455,268 460,277 462,280 468,282 478,278 480,279 478,286 472,296 466,304 460,310 456,314 452.6,320.1 453.3,325.3 453.9,331.8 455.2,336.9 455.7,345.4 452.5,350.5 447.3,354.4 443.4,358.3 442.1,363.5 443.4,368.6 439.5,372.5 435.6,375.1 435.6,379 434.4,382.9 430.5,386.8 426.6,390.6 421.4,394.5 414.9,397.1 409.8,397.8 405.9,399.1 403.3,397.1 402.6,391.9 401.4,388.1 400.1,382.9 397.5,377.7 395.5,371.2 392.9,363.5 391,358.3 389.7,354.4 390.5,353.8 389.9,348.6 391.2,342.1 393.1,335.6 391.8,330.5 391.2,326.6 391.8,324.6 391.8,322.7 389.9,319.5 389.2,318.8 386.6,317.5 383.4,312.4 383.4,309.1 384.1,306.5 384.7,303.3 383.4,298.1 382.8,294.2 379.5,297.6 374.8,296.5 371.3,293.6 366.6,292.4 364.3,293.6 359.7,295.3 356.2,295.3 350.3,295.9 345.1,297.1 344.5,296.5 341,294.1 337.5,290.6 334.6,288.3 332.2,286 331.7,281.3 328.7,279 325.2,277.8 324.7,275.5 324.7,272.6 322.9,269.7 325.8,260.3 325.2,256.8 324.7,253.9 327,246.3 330.5,240.5 334.6,236.4 338,234.5 341,232 343,228 344,223 347,220 350,219Z" fill="#ffffcc" stroke="#ffffcc" stroke-width="1.6"/>
<path d="M334.6,236.4 338,234.5 341,232 343,228 344,223 347,220 350,219 356,217 359,219 360,224 357,227 352,230 348,233 344,236 343.3,237Z" fill="#41b6c4" stroke="#41b6c4" stroke-width="1.6"/>
<path d="M334.6,236.4 343.3,237 343.3,238.2 342.7,240.5 335.2,241.1 334.6,247.5 334,253.3 324.7,253.9 327,246.3 330.5,240.5Z" fill="#fff" stroke="#fff" stroke-width="1.6"/>
<path d="M356,217 366,214 374,213 381,212 383,218 383,228 385,234 388,248 380,253 372,258 371.3,258.6 364,252 356,246 348.6,242.8 343.3,238.2 343.3,237 344,236 348,233 352,230 357,227 360,224 359,219Z" fill="#7fcdbb" stroke="#7fcdbb" stroke-width="1.6"/>
<path d="M381,212 385,211.6 387,216 387,222 385,227 383,228 383,218Z" fill="#7fcdbb" stroke="#7fcdbb" stroke-width="1.6"/>
<path d="M385,227 387,222 394,224 402,226 406,228 410,224 416,225 419,227 419,256 417,257 408,253 398,249 390,247 388,248 385,234Z" fill="#7fcdbb" stroke="#7fcdbb" stroke-width="1.6"/>
<path d="M419,227 426,226 434,228 436,228 438,234 441,239 444,246 446,251 420,251 419,246Z" fill="#1d91c0" stroke="#1d91c0" stroke-width="1.6"/>
<path d="M420,251 446,251 447,258 450,264 447,268 444,272 442,276 439,280 436,282 428,282 421,282 418,279 416,274 415,268 417,260 417,257 419,256Z" fill="#ffffcc" stroke="#ffffcc" stroke-width="1.6"/>
<path d="M421,282 428,282 436,282 439,280 441,284 444,290 440,296 434,298 428,295 422,289 420,285Z" fill="#fff" stroke="#fff" stroke-width="1.6"/>
<path d="M447,268 450,264 455,268 460,277 457,273 450,270Z" fill="#fff" stroke="#fff" stroke-width="1.6"/>
<path d="M440,272 442,276 444,272 447,268 450,270 457,273 460,277 462,280 468,282 471,286 464,294 458,298 452,298 444,296 440,296 444,290 441,284 439,280Z" fill="#c7e9b4" stroke="#c7e9b4" stroke-width="1.6"/>
<path d="M462,280 468,282 478,278 480,279 478,286 472,296 466,304 460,310 458.5,306 458,298 464,294 471,286Z" fill="#ffffcc" stroke="#ffffcc" stroke-width="1.6"/>
<path d="M441,298.8 442.3,295.5 448.8,296.8 452.6,298.8 458.5,299.4 460,310 456,314 452.6,320.1 447.5,316.2 441.6,311.7 442.3,307.2 442.9,302Z" fill="#7fcdbb" stroke="#7fcdbb" stroke-width="1.6"/>
<path d="M433.9,299.4 441,298.8 442.9,302 442.3,307.2 439.7,311.7 435.8,311.7 432.6,310.4 433.2,304.6Z" fill="#c7e9b4" stroke="#c7e9b4" stroke-width="1.6"/>
<path d="M435.8,311.7 441.6,311.7 447.5,316.2 452.6,320.1 453.3,325.3 453.9,331.8 455.2,336.9 450.1,338.2 446.2,338.9 442.3,338.2 438.4,334.4 434.5,331.8 432,329.2 431.3,324 430.6,318.8 432.6,316.2Z" fill="#7fcdbb" stroke="#7fcdbb" stroke-width="1.6"/>
<path d="M398,249 408,253 417,257 417,260 415,268 416,274 414,280 410,284 404,286 400,288 398,282 397,276 398,270 399,262 398,255Z" fill="#ffffcc" stroke="#ffffcc" stroke-width="1.6"/>
<path d="M372,258 380,253 388,248 390,247 398,249 398,255 399,262 398,270 394,274 386,274 380,273 372,272 370,269 372,264Z" fill="#ffffcc" stroke="#ffffcc" stroke-width="1.6"/>
<path d="M343.3,238.2 348.6,242.8 356,246 364,252 371.3,258.6 371.9,263.8 370.1,268.5 364.3,270.2 359.7,269.7 355,272 351.5,275.5 349.2,279 346.8,281.3 343.3,280.1 342.2,276.6 337.5,274.3 336.3,269.7 350.3,268.5 349.7,255.7 349.2,246.3Z" fill="#ffffcc" stroke="#ffffcc" stroke-width="1.6"/>
<path d="M324.7,253.9 334,253.3 334.6,247.5 335.2,241.1 342.7,240.5 343.3,238.2 349.2,246.3 349.7,255.7 350.3,268.5 337.5,269.1 335.2,266.2 331.7,265 327,265 325.8,260.3 325.2,256.8Z" fill="#ffffcc" stroke="#ffffcc" stroke-width="1.6"/>
<path d="M322.9,269.7 327,266.2 331.7,266.2 335.2,269.7 336.3,274.3 334,275.5 329.3,275.5 325.2,275.5 324.7,272.6Z" fill="#c7e9b4" stroke="#c7e9b4" stroke-width="1.6"/>
<path d="M324.7,275.5 329.3,276.1 328.7,279 325.2,277.8Z" fill="#ffffcc" stroke="#ffffcc" stroke-width="1.6"/>
<path d="M329.3,276.1 336.3,274.3 342.2,276.6 343.3,281.3 342.2,286 339.8,287.1 337.5,283.6 335.2,281.9 331.7,281.3 328.7,279Z" fill="#c7e9b4" stroke="#c7e9b4" stroke-width="1.6"/>
<path d="M331.7,281.3 335.2,281.9 337.5,283.6 337.5,287.1 334.6,288.3 332.2,286Z" fill="#ffffcc" stroke="#ffffcc" stroke-width="1.6"/>
<path d="M337.5,287.1 339.8,287.1 342.2,288.3 343.3,291.8 344.5,296.5 341,294.1 337.5,290.6Z" fill="#fff" stroke="#fff" stroke-width="1.6"/>
<path d="M343.3,282.5 346.8,281.3 351.5,282.5 356.2,283.1 356.2,295.3 350.3,295.9 345.1,297.1 343.9,291.8 342.7,288.3Z" fill="#7fcdbb" stroke="#7fcdbb" stroke-width="1.6"/>
<path d="M351.5,275.5 355,272 359.7,269.7 364.3,270.2 366.6,274.3 370.1,276.6 369,279 364.3,280.1 358.5,280.7 356.2,283.1 351.5,282.5 349.2,279Z" fill="#ffffcc" stroke="#ffffcc" stroke-width="1.6"/>
<path d="M356.2,280.7 363.1,280.4 363.7,284.8 364.3,293.6 359.7,295.3 356.2,295.3 356.2,286Z" fill="#7fcdbb" stroke="#7fcdbb" stroke-width="1.6"/>
<path d="M363.7,280.7 365.5,280.7 366.1,291.8 364.5,293ZM365.5,279 369,277.8 370.7,281.3 370.1,291.8 366.6,292.4 366.1,286Z" fill="#ffffcc" stroke="#ffffcc" stroke-width="1.6"/>
<path d="M371.3,276.6 374.8,274.3 380.6,274.9 386.5,274.3 392.3,274.9 395.8,276.6 394.6,280.1 392.3,284.8 390,290.6 385.3,295.3 379.5,297.6 374.8,296.5 371.3,293.6 370.7,286 370.7,281.3Z" fill="#fff" stroke="#fff" stroke-width="1.6"/>
<path d="M382.8,294.2 387.9,290.4 393.1,285.2 396.4,280 397,276 398,282 400,288 398,290 399,299.4 395.7,303.3 391.8,303.3 387.9,303.3 384.1,303.3 383.4,298.1Z" fill="#c7e9b4" stroke="#c7e9b4" stroke-width="1.6"/>
<path d="M398,290 400,288 404,286 410,284 414,280 420,285 422,289 424,294 420,296 417.7,295.5 411.2,296.8 404.8,298.1 402.8,299.4 399,299.4Z" fill="#ffffcc" stroke="#ffffcc" stroke-width="1.6"/>
<path d="M384.7,303.3 387.9,303.3 387.9,305.9 384.4,305.9Z" fill="#ffffcc" stroke="#ffffcc" stroke-width="1.6"/>
<path d="M384.1,306.5 387.9,305.9 391.8,304.6 395.1,305.9 395.1,311.1 393.1,314.9 389.2,318.8 386.6,317.5 383.4,312.4 383.4,309.1Z" fill="#7fcdbb" stroke="#7fcdbb" stroke-width="1.6"/>
<path d="M395.1,305.9 398.3,300.7 402.8,299.4 404.8,302 403.5,307.2 401.5,312.4 399.6,316.2 395.7,320.1 391.8,321.4 389.9,319.5 393.1,314.9 395.1,311.1Z" fill="#c7e9b4" stroke="#c7e9b4" stroke-width="1.6"/>
<path d="M404.8,298.1 411.2,296.8 417.7,295.5 420,296 424.2,296.2 429.4,296.8 433.9,299.4 433.2,304.6 432,308.5 432,313.6 430.6,318.8 431.3,324 433.2,329.2 429.4,333.1 429.4,336.9 430.6,342.1 428.1,340.8 425.5,339.5 421.6,340.8 417.7,338.2 413.8,336.9 412.5,333.1 412.5,329.2 408.6,327.9 406.1,329.2 402.2,327.9 400.9,324.6 393.1,324.6 391.8,322.7 395.7,320.1 399.6,316.2 401.5,312.4 403.5,307.2 404.8,302Z" fill="#7fcdbb" stroke="#7fcdbb" stroke-width="1.6"/>
<path d="M431,313.5 433,313.8 432.6,317 430.8,316.5Z" fill="#fff" stroke="#fff" stroke-width="1.6"/>
<path d="M431.5,310.5 433.5,310.6 433,313.5 431,313.3Z" fill="#ffffcc" stroke="#ffffcc" stroke-width="1.6"/>
<path d="M391.8,324.6 400.9,324.6 402.2,327.9 406.1,329.2 408.6,327.9 412.5,329.2 412.5,333.1 413.8,336.9 413.8,342.1 413.8,351.2 416.4,354.4 411.1,355.7 399.4,355.1 389.7,354.4 389.9,348.6 391.2,342.1 393.1,335.6 391.8,330.5 391.2,326.6Z" fill="#7fcdbb" stroke="#7fcdbb" stroke-width="1.6"/>
<path d="M413.8,342.1 417.7,339.5 421.6,340.8 425.5,339.5 428.1,340.8 430.6,342.1 429.4,336.9 429.4,333.1 432,331.8 435.8,331.8 438.4,334.4 439.7,338.2 439.7,342.1 437.1,344.1 433.2,344.7 429.4,347.3 425.5,352.5 420.3,355.1 416.4,354.4 413.8,351.2 413.8,346ZM439.7,338.2 442.3,338.2 443.6,343.4 444.9,348.6 442.3,351.8 441,347.3 439.7,343.4Z" fill="#fff" stroke="#fff" stroke-width="1.6"/>
<path d="M442.3,338.2 446.2,338.9 450.1,338.2 455.2,336.9 455.7,345.4 452.5,350.5 447.3,354.4 443.4,358.3 442.1,363.5 443.4,368.6 439.5,372.5 435.6,375.1 434.4,371.2 435.6,364.8 437.6,359.6 436.9,353.1 440.8,351.8 443.4,350.5 444.9,348.6 443.6,343.4Z" fill="#c7e9b4" stroke="#c7e9b4" stroke-width="1.6"/>
<path d="M421.4,356.4 427.9,354.4 433.1,351.2 436.9,353.1 437.6,359.6 435.6,364.8 431.8,367.4 427.9,365.4 424,360.9Z" fill="#ffffcc" stroke="#ffffcc" stroke-width="1.6"/>
<path d="M389.7,354.4 399.4,355.1 411.1,355.7 416.4,354.4 418.8,354.4 421.4,356.4 416.2,355.7 410.4,357 409.1,366.1 409.1,373.8 407.8,373.8 407.2,379 404.6,384.8 400.1,382.9 397.5,377.7 395.5,371.2 392.9,363.5 391,358.3Z" fill="#ffffcc" stroke="#ffffcc" stroke-width="1.6"/>
<path d="M410.4,357 416.2,355.7 421.4,356.4 424,360.9 427.9,365.4 424,368.6 420.1,373.8 414.9,376.4 411.1,377.7 409.1,373.8 409.1,366.1Z" fill="#c7e9b4" stroke="#c7e9b4" stroke-width="1.6"/>
<path d="M400.1,382.9 404.6,384.8 407.2,379 409.1,373.8 411.1,377.7 414.9,376.4 420.1,373.8 424,368.6 427.9,367.4 431.8,367.4 433.7,369.9 434.4,373.8 435.6,379 434.4,382.9 430.5,386.8 426.6,390.6 421.4,394.5 414.9,397.1 409.8,397.8 405.9,399.1 403.3,397.1 402.6,391.9 401.4,388.1Z" fill="#1d91c0" stroke="#1d91c0" stroke-width="1.6"/>
<path d="M423.4,386.1 426.6,384.2 427.9,386.1 425.3,388.7 423.4,388.1ZM431.8,376.4 434.4,376.2 434.4,379.6 432.4,379.6Z" fill="#ffffcc" stroke="#ffffcc" stroke-width="1.6"/>
<path d="M476.4,340.8 478.4,347.9 475.8,357 473.2,364.8 470.6,371.9 466.7,375.1 462.8,373.8 460.9,367.4 462.8,359.6 464.1,353.1 469.3,349.2 473.2,345.4Z" fill="#c7e9b4" stroke="#c7e9b4" stroke-width="1.6"/>
<path d="M443.2,228.3 449,226 454.8,228.3 461.8,231.8 466.5,232.4 468.3,234.2 470,234.2 473.5,236.5 475.8,240 478.2,242.3 479.9,244.7 481.7,247 486.3,248.2 487.5,250.5 488.7,255.2 485.2,257.5 479.3,259.8 473.5,262.2 468.8,263.9 464.2,264.5 460.7,263.3 458.3,259.8 455.4,255.2 452.5,250.5 449,245.8 445.5,240 442,235.3 440.3,231.8 441,229.5Z" fill="#1d91c0" stroke="#1d91c0" stroke-width="1.6"/>
<path d="M460.7,263.3 464.2,264.5 468.8,263.9 473.5,262.2 479.3,259.8 481.7,261 484,264.5 479.3,268 473.5,270.3 467.7,272.7 463,273.8 460.7,271.5 460.1,266.8Z" fill="#fff" stroke="#fff" stroke-width="1.6"/>
<path d="M489.3,241.2 491,243.5 493.3,246.4 496.8,249.3 498,251.7 494.5,256.3 491,259.8 486.3,263.3 484,264.5 481.7,261 485.2,257.5 488.7,255.2 487.5,250.5 488.7,248.2 489.8,243.5Z" fill="#41b6c4" stroke="#41b6c4" stroke-width="1.6"/>
<path d="M481.7,247 486.3,244.7 488.1,242.3 489.3,241.2 489.8,243.5 488.7,248.2 487.5,250.5 486.3,248.2ZM479.5,243.5 480.6,243.3 480.8,245.5 479.6,245.4Z" fill="#1d91c0" stroke="#1d91c0" stroke-width="1.6"/>
<path d="M449,213.2 458.3,210.8 463,212 464.2,217.8 466.5,223.7 468.8,228.3 468.8,231.3 466.5,232.4 461.8,231.8 454.8,228.3 449,226 447.8,222.5 449,217.8Z" fill="#41b6c4" stroke="#41b6c4" stroke-width="1.6"/>
<path d="M442,215.5 445.5,213.2 449,213.2 449,217.8 447.8,222.5 445.5,223.7 442.6,222.5 441.4,219Z" fill="#c7e9b4" stroke="#c7e9b4" stroke-width="1.6"/>
<path d="M442.6,222.5 445.5,223.7 447.8,222.5 449,226 443.2,228.3 442,227.2 442.2,224.8Z" fill="#41b6c4" stroke="#41b6c4" stroke-width="1.6"/>
<path d="M466.5,232.4 468.8,231.3 470,233.6 468.3,234.2Z" fill="#41b6c4" stroke="#41b6c4" stroke-width="1.6"/>
<path d="M439.7,220.2 441.4,219 442.6,222.5 442.2,224.8 442,227.2 441,229.5 440.3,228 439.7,226Z" fill="#fff" stroke="#fff" stroke-width="1.6"/>
<path d="M460.9,210.9 459.8,207.2 461,205.5 463.5,206.2 465.5,208.5 470,208.5 475.8,210.8 481.7,209.7 487.5,210.8 493.3,212 495.7,215.5 496.8,221.3 498,228.3 500.3,233 502.7,237.7 501.5,240 495.7,240 489.8,238.8 486.3,240 481.7,240 477,237.7 473.5,234.2 470,230.7 468.8,228.3 466.5,223.7 464.2,217.8Z" fill="#1d91c0" stroke="#1d91c0" stroke-width="1.6"/>
<path d="M458,176 466,174 476,175 482,172 484,168 492,166 500,167 508,168 514,169 520,173 526,176 532,179 538,181 540,182 538.6,182.1 535.7,184.2 531.5,185.7 530.1,191.3 531.5,194.2 530.1,198.4 523,197 515.9,197 511.7,198.4 510.2,204.1 506,201.2 501.7,198.4 497.5,195.6 490.4,194.2 483.3,190.6 479.1,191.3 479.1,197 480.5,201.2 476.2,204.1 472,200.5 467.7,197 469.2,192.7 470.6,188.5 464.9,187.8 460.7,192.7 457,186 457,182Z" fill="#41b6c4" stroke="#41b6c4" stroke-width="1.6"/>
<path d="M476.2,204.1 480.5,201.2 487.6,198.4 493.2,201.2 497.5,205.5 501.7,209.7 498.9,214 496.1,215.4 491.8,211.9 486.2,210.5 480.5,210.5 477.7,209.7Z" fill="#fff" stroke="#fff" stroke-width="1.6"/>
<path d="M479.1,191.3 483.3,190.6 490.4,194.2 497.5,195.6 501.7,198.4 506,201.2 510.2,204.1 511.7,206.9 507.4,208.3 503.2,207.6 497.5,205.5 493.2,201.2 487.6,198.4 480.5,201.2 479.1,197Z" fill="#7fcdbb" stroke="#7fcdbb" stroke-width="1.6"/>
<path d="M511.7,198.4 515.9,197 523,197 530.1,198.4 528.7,201.2 524.4,202.7 520.2,204.1 515.9,203.4 513.1,202.7ZM508.8,205.5 513.1,204.1 517.3,204.8 520.2,205.5 523,208.3 521.6,211.2 517.3,211.9 514.5,209.7 511.7,211.2 510.2,208.3Z" fill="#ffffcc" stroke="#ffffcc" stroke-width="1.6"/>
<path d="M498.9,214 501.7,209.7 507.4,208.3 511.7,211.2 514.5,209.7 517.3,211.9 521.6,211.2 521.6,214 517.3,215.4 514.5,218.2 513.1,223.9 510.2,228.2 506,231 500.3,231 498.9,226.7 497.5,221.1 496.1,215.4Z" fill="#fff" stroke="#fff" stroke-width="1.6"/>
<path d="M500.3,231 506,231 510.2,228.2 513.1,223.9 514.5,218.2 517.3,215.4 521.6,214 525.8,214.7 528.7,218.2 524.4,221.1 525.8,225.3 523,231 518.7,236.7 520.2,242.3 517.3,245.2 511.7,243.7 507.4,242.3 501.7,242.3 503.2,238.1 501.7,233.8Z" fill="#7fcdbb" stroke="#7fcdbb" stroke-width="1.6"/>
<path d="M538.6,182.1 540,182 545.9,185.3 549.4,190.6 556.5,194.1 565.3,196.8 574,198.5 580,199 588,198 594,194 598,190 604,189 607,186 600,184 600,171 606,172 614,175 622,178 628,180 634,184 636.6,186.5 637,189.5 634.4,191 634.8,192.5 636.3,196.3 637.4,198.1 635.5,200 633.3,202.3 631,204.5 630.3,206.8 627.9,205 625.3,205.6 620,206.5 616.5,208.2 620,210.9 625.3,212.6 626.2,217.1 628.8,222.4 631.5,227.6 633.2,232.9 632.4,238.2 629.7,243.5 625.3,248.8 620,252.4 614.7,254.1 611.2,255.9 607.6,254.1 604.1,252.4 600.6,250.6 595.3,250.6 588.2,247.1 584.7,243.5 582.9,238.2 581.2,234.7 577.6,232.9 575,232.4 569.7,235.2 565.5,236.7 559.8,237.4 554.2,235.2 545.7,232.4 540,229.6 535.7,225.3 532.9,219.7 528.7,218.2 525.8,214.7 521.6,214 521.6,211.2 523,208.3 524.4,202.7 528.7,201.2 530.1,198.4 531.5,194.2 530.1,191.3 531.5,185.7 535.7,184.2ZM609.4,256.5 613,255.9 614.7,258.5 612,261.2 609.5,259.5ZM634.1,243 636,242.6 636.8,247 635.2,251.5 633.8,249Z" fill="#fff" stroke="#fff" stroke-width="1.6"/>
<path d="M540,182 548,178 556,175 564,176 572,177 580,179 588,179 596,182 600,184 607,186 604,189 598,190 594,194 588,198 580,199 574,198.5 565.3,196.8 556.5,194.1 549.4,190.6 545.9,185.3Z" fill="#7fcdbb" stroke="#7fcdbb" stroke-width="1.6"/>
<path d="M637.4,198.1 635.5,200 633.3,202.3 631,204.5 630.3,206.8 632.5,207.5 634,209 636.3,208.3 637,206 636.3,203.8 637.4,201.5 638.5,199.3Z" fill="#fff" stroke="#fff" stroke-width="1.6"/>
<path d="M634,209.8 637,208.6 640,210.5 642.3,212.8 643.4,215 643,217.3 640.8,218.4 638.5,218.8 637.4,216.5 636.3,214.3 635.5,212.4ZM655.8,191 658,191.8 661,193.3 664,193.3 666.3,195.5 664,197 661.8,198.5 659.5,200 657.3,199.3 656.1,197 656.5,194.8ZM660.3,200.8 662.5,201.9 664.8,204.5 665.9,207.5 666.3,210.5 667.4,213.5 667.8,215.8 665.9,217.3 663.3,218 661,219.5 658.8,218.8 655,218.6 652.8,219 650.5,220 648.3,221.8 646.4,221.8 647.5,219.5 649.8,217.3 652,215.8 655,215 657.5,214 658,211.6 660.3,210.5 661.8,209 661.8,206.8 661,204.5 659.9,202.3ZM647.5,221.8 649.8,221 651.6,222.5 652,224.8 651.3,227 649.8,227.4 649,225.5 647.5,224ZM652.8,220.3 655.8,219.5 657.3,221 655,222.1 653.1,221.8Z" fill="#225ea8" stroke="#225ea8" stroke-width="1.6"/>
<path d="M530,217.1 533.5,218.8 537.1,224.1 542.4,230.3 547.6,232.9 552.9,235.6 560,237.4 561.8,236.5 568.8,232.9 575.9,232.9 579.4,236.5 575.9,240 573.2,243.5 571.5,248.8 569.7,245.3 567.1,239.1 561.8,240 562.6,247.1 563.5,251.8 560.6,252.9 558.8,255.3 556.5,258.8 554.1,261.2 550.6,264.7 547.1,267.1 545.9,269.4 546.5,275.3 544.7,281.2 542.9,285.9 541.2,287.6 538.8,284.7 536.5,281.2 534.1,275.3 531.8,269.4 530,263.5 528.2,257.6 527.1,254.1 524.7,254.1 521.2,251.8 517.3,245.2 520.2,242.3 518.7,236.7 523,231 525.8,225.3 524.4,221.1 528.7,218.2Z" fill="#225ea8" stroke="#225ea8" stroke-width="1.6"/>
<path d="M546.5,283.5 548.2,283.5 550.6,287.1 551.2,290.6 548.8,292.9 547.1,291.8 546.5,287.1Z" fill="#41b6c4" stroke="#41b6c4" stroke-width="1.6"/>
<path d="M561.8,240 567.1,239.1 569.7,245.3 571.5,250.6 567.9,252.4 564.4,251.5 562.6,247.1Z" fill="#7fcdbb" stroke="#7fcdbb" stroke-width="1.6"/>
<path d="M540.6,230.3 544.1,229.4 551.2,232.1 558.2,234.7 560,239.1 552.9,238.2 547.6,236.5 542.4,233.8ZM560.9,235.6 567.9,236.1 567.1,238.6 561.8,238.2Z" fill="#ffffcc" stroke="#ffffcc" stroke-width="1.6"/>
<path d="M573.2,243.5 575.9,240 579.4,236.5 582.9,238.2 584.7,243.5 588.2,247.1 590.6,252.9 588.2,256.5 584.7,260 585.3,264.7 585.9,268.2 587.1,271.8 588.2,275.3 589.4,278.8 588,279 584.5,272 582.4,267.1 578.8,267.1 577.6,263.5 574.1,255.9 572.4,250.6Z" fill="#fff" stroke="#fff" stroke-width="1.6"/>
<path d="M592.5,254.2 595.2,252.4 598,253.3 599.8,256.1 598.9,257.9 599.8,259.7 601.6,262.5 604.4,266.1 606.2,268.9 608,271.6 605.3,271.6 603.5,269.8 601.6,266.1 598.9,262.5 596.1,261.6 593.4,261.6 592.5,258.8 593.4,256.5Z" fill="#fff" stroke="#fff" stroke-width="1.6"/>
<path d="M585.1,258.8 588.8,256.1 591.6,257 592.5,258.8 593.4,261.6 596.1,261.6 598.9,262.5 601.6,266.1 603.5,269.8 602.5,271.6 599.8,272.5 597.5,273.5 596.1,275.3 594.3,274.4 592.5,274.4 591.1,276.2 590.6,279.9 589.7,283.5 589.7,286.3 591.6,288.1 593.5,290.5 595.3,291.8 594.1,293.5 591.8,291.8 588.8,289 588.5,285 588.8,280.8 588.4,277.1 587.9,271.6 587,268 585.6,264.3 584.7,261.1ZM595.3,291.8 597.6,292.9 600,295.3 601.2,298.8 602.9,304.7 601.2,305.3 598.8,303.5 596.5,300 594.7,295.3 594.1,293.5ZM594.3,250.6 598,248.7 600.7,248.3 602.5,250.1 605.3,251.9 606.7,252.9 604.4,254.2 602.5,256.5 603.5,259.7 606.2,262.5 609.9,265.2 612.6,269.8 613.5,274.4 612.6,278 609.9,281.7 607.1,284 604.4,285.8 603.5,284.5 605.3,281.7 607.1,279 609,277.1 609,273.5 608,271.6 606.2,268.9 604.4,266.1 601.6,262.5 599.8,259.7 598.9,257.9 599.8,256.1 598,253.3 595.2,252.4Z" fill="#1d91c0" stroke="#1d91c0" stroke-width="1.6"/>
<path d="M597.5,273.5 599.8,272.5 602.5,271.6 605.3,271.6 608,271.6 609,273.5 609,277.1 607.1,279 604.4,280.3 601.6,280.8 599.3,279 598,276.7Z" fill="#7fcdbb" stroke="#7fcdbb" stroke-width="1.6"/>
<path d="M582.8,294.7 587.7,295.4 593.4,298.9 597.7,303.2 601.9,307.4 605.5,311.7 607.6,315.9 607.6,320.2 606.2,323.7 603.3,324.4 599.8,320.9 596.2,315.9 592,310.2 588.5,304.6 584.9,299.6 582.8,296.8ZM606.2,324.4 611.8,325.8 617.5,327.2 623.2,328.7 628.8,330.1 627.4,331.5 621.7,330.8 614.7,329.4 609,328 606.2,326.5ZM631.7,331.5 637.3,330.8 645.8,330.8 645.1,332.2 637.3,332.2 631.7,332.6ZM614.7,304.6 617.5,303.2 623.2,301.7 627.4,297.5 631.7,292.5 633.8,291.1 637.3,294.7 635.9,297.5 634.5,301.7 637.3,306 634.5,308.8 631.7,311.7 630.2,317.3 627.4,318.7 623.2,317.3 618.9,315.9 616.8,313.1 615.4,308.8ZM638.7,307.4 643,306 650.1,305.3 651.5,306 645.8,308.8 643,311.7 645.8,314.5 645.8,321.6 643,322.3 641.6,317.3 640,316 638.7,318.7 637.3,315.9 638,311.7ZM657.2,303.9 659.3,307.4 658.6,310.2 657.2,308.8ZM654.3,317.3 661.4,316.6 660,318.7 654.3,318.7ZM664.2,311.7 668.5,310.2 672.7,311.7 674.2,313.8 678.4,313.8 682.6,314.5 688.3,315.9 688.3,332.2 685.5,331.5 682.6,327.2 679.8,323 677,321.6 674.2,319.4 671.3,315.9 668.5,315.2 665.7,314.5Z" fill="#1d91c0" stroke="#1d91c0" stroke-width="1.6"/>
<path d="M650,330.8 655.7,330.3 655,331.8 650.5,332Z" fill="#ffffcc" stroke="#ffffcc" stroke-width="1.6"/>
<path d="M637.3,261.4 640.9,260.7 641.6,264.9 640.9,269.2 643,271.3 645.8,272.7 647.2,274.8 644.4,275.5 640.9,274.8 639.4,272 638,269.2 636.6,265.6ZM643,277.7 647.2,277.7 650.1,279.1 651.5,283.3 653.6,287.6 652.9,291.8 650.1,293.2 647.2,290.4 644.4,289.7 644.4,287.6 647.2,286.2 645.8,283.3 643.7,281.2ZM637.3,280.5 635.9,283.3 633.1,286.2 632.4,285.5 634.5,282.6 636.6,280.2Z" fill="#1d91c0" stroke="#1d91c0" stroke-width="1.6"/>
<path d="M614.2,398 616.4,393.7 617.1,386.7 616.4,378.2 617.8,372.5 619.9,366.8 624.2,364 629.8,361.9 636.9,359.7 640.5,356.2 644,352.7 648.2,348.4 652.5,345.6 656.7,347 659.6,344.2 662.4,340.6 666.7,338.5 670.9,340.6 675.9,340.6 673,344.2 673.7,348.4 678,352 682.2,354.8 685.1,351.2 687.2,345.6 688.6,339.9 690,337.1 692.2,341.3 693.6,347 695,352.7 696.4,358.3 700.7,362.6 703.5,369.7 705.6,375.3 704.2,382.4 700.7,389.5 695,396.6 689.3,402.2 683.7,406.5 678,409.3 672.3,407.9 666.7,405.1 664.5,400.8 663.8,395.9 661,398 658.2,398 655.3,393.7 651.1,392.3 645.4,392.3 638.3,394.5 632.7,396.6 627,398 621.3,399.4 617.1,400.1ZM668.2,413.5 672,413.3 676,414.7 674.6,420.5 671,422.6 668.5,419.5Z" fill="#1d91c0" stroke="#1d91c0" stroke-width="1.6"/>
<path d="M687.3,315.8 691.7,316.9 698.2,321.3 702.5,325.6 705.8,331 709,335.3 704.7,335.3 700.3,333.2 695,331 691.7,332.1 688.4,333.2 688.3,326.7ZM704.7,322.3 711.2,320.2 715.5,319.1 713.3,323.4 706.8,324.5Z" fill="#fff" stroke="#fff" stroke-width="1.6"/>
<path d="M739.3,399.3 741.5,400.3 742.6,405.8 745.8,407.9 743.7,411.2 739.3,413.3 735,416.6 732.8,415.5 736.1,411.2 739.3,406.8 738.3,402.5ZM728.5,415.5 730.7,417.7 726.3,422 719.8,425.3 713.3,428.5 707.9,430.7 705.8,428.5 711.2,425.3 717.7,422 724.2,418.8Z" fill="#41b6c4" stroke="#41b6c4" stroke-width="1.6"/>
<path d="M720,324.5 723,325.5 722.5,326.5 719.5,325.5ZM727,328 731,330.5 730,331.5 726.5,329ZM743.5,347 745,348.5 744.5,351 743,349Z" fill="#ffffcc" stroke="#ffffcc" stroke-width="1.6"/>
<path d="M735,361 738.5,363.5 739,366 735.5,364ZM766,354 769.5,353.5 769,356 766.5,356Z" fill="#fff" stroke="#fff" stroke-width="1.6"/>
<path d="M9.2,256.5 11,256 12,257.5 11,259.5 9.5,259.2ZM5,252.2 7,252.6 7.5,253.8 5.5,253.4ZM8,253.8 10,254.2 9.8,255 8,254.6ZM2,251 3.5,251.2 3.3,251.9 2,251.7Z" fill="#0c2c84" stroke="#0c2c84" stroke-width="1.6"/>
<path d="M0,303 1.3,303 1.3,305 0,305Z" fill="#fff" stroke="#fff" stroke-width="1.6"/>
<path d="M378.2,111.9 381.5,111.1 386.5,110.7 389.8,110.3 394.7,110 400.5,110.3 401.7,111.1 398,111.9 393.9,112.4 391.4,113.6 389.8,115.7 387.3,117.3 384.8,116.5 381.5,114.4 379.1,113.2ZM394.3,114.4 398.8,114.8 397.2,115.7 394.7,115.7Z" fill="#1d91c0" stroke="#1d91c0" stroke-width="1.6"/>
<path d="M492,362 493.3,362 493.3,363.3 492,363.3Z" fill="#41b6c4" stroke="#41b6c4" stroke-width="1.6"/>
<path d="M501.5,435.5 503.5,435.2 503.8,436.8 501.8,437Z" fill="#fff" stroke="#fff" stroke-width="1.6"/>
<path d="M723,327 726,328 725.5,329 722.5,328ZM729,331.5 732,333.5 731,334.3 728.5,332.5ZM733,335 735,336.5 734.3,337.2 732.5,336Z" fill="#ffffcc" stroke="#ffffcc" stroke-width="1.6"/>
<path d="M305,264 306.2,264 306.2,265.2 305,265.2ZM310,265.5 311,265.5 311,267 310,267ZM307,269.3 309.5,269 309,270 307,270.2ZM324.6,273.3 330,273 330.3,274.3 324.6,274.6Z" fill="#ffffcc" stroke="#ffffcc" stroke-width="1.6"/></g>
<path d="M127.5,132.2 120,130.8 113,129.5 107,128.8 100,129.8 95,130.5 90,132 88,132 84,133 82,134.6 82.4,136.6 81,138.4 76.4,139 72.4,140 70.4,141.4 71.2,143 75.2,143.4 79.2,143.2 81,144.4 79.6,146 75.6,147 70,147.8 64.4,149 61.2,151 60,153.4 62,155 66,155.6 69,155.4 66,157.4 58,161 51,164 44.4,166.8 44.8,167.8 52.4,165.4 60,162.6 69,159.2 74.4,157.4 80,155.2 84,154.2 87.6,153 90.4,153.4 92.4,153.6 94,152.5 98,153.5 102,154 104.5,153.2 106,155 110,156 112.5,157 113,161 114,165 112.5,165 111.5,161 110,158 106.5,157 104.5,154.5Z" fill="#0c2c84" class="c"/>
<path d="M69,158.6 72.4,157.4 75.6,158.2 74.4,160.2 71,160.6Z" fill="#0c2c84" class="c"/>
<path d="M48,142.4 52.4,139.4 57,137.4 60,134.4 62.4,135 63.6,137.8 68,137.8 68,140.6 64.4,141.4 62,144 58.4,143.4 54.4,142.2ZM68,129 70.4,128 73,128.4 71,129.4Z" fill="#1d91c0" class="c"/>
<path d="M127.5,132.2 132,132.6 140,132 146,131 150,130.6 153.1,130.2 156.1,131.3 159.9,132.1 163.8,132.9 167.6,134.4 169.9,135.2 172.9,135.6 176.8,135.2 180.6,134.8 184.4,135.2 188.2,135.6 192,135.9 195.9,136.3 198.9,135.9 202,133.6 205,132.9 208.1,130.6 211.2,129.1 213.5,128.8 212.9,130.6 213,134 213.5,138 212,141.5 211,143 209,144.5 205,146 200,148 195,150 191,152 187.5,155 188,159 190,161 195,162 199,164 202,166 203.5,168 203,172 204.5,175 207,174 208.5,170 210,167 214,166 217,164 219,160 220,155 221,152 222,150 224,149.5 228,149 232,149.5 234.5,152 236,156 238,158 240,156.5 242,154 244,151 245.5,150 246.5,154 248,160 250,164 252,167 254,171 253.5,175 250,175.9 246.5,176.5 240.6,178.2 233.5,179.4 226.5,181.8 220.6,185.3 218.8,186.5 221.8,185.6 226.5,183.5 231.2,182.4 234.1,183.5 232.4,186.5 234.7,188.2 238.2,186.8 240,188.2 237.1,190 233.5,191.2 228.8,193.5 225.9,195.3 225.3,194.1 224.1,191.8 223.5,186.1 220.6,187.1 217.1,188.8 212.4,191.2 207.6,192.9 202.9,194.7 198.2,196.5 193.5,198.2 188.2,200 190.6,195.3 191.8,191.8 190,188.2 186.5,185.3 181.8,183.5 175.9,182.4 170,181.6 150,181.6 130,181.6 114.5,181.6 112,179 110,176 110.5,173 110,170 111,167 112.5,165 111.5,161 110,158 106.5,157 104.5,153.2ZM242.9,184.7 245.3,181.2 248.2,177.6 251.2,176.5 252.9,178.8 254.7,180.6 255.9,183.5 255.3,186.5 253.5,187.6 251.2,185.9 248.8,185.3 246.5,185.3ZM106.5,177 109,177.5 112,180 114,182.5 111,182 107.5,179ZM103.6,168.5 106,168 106.5,171 105,173 103.5,171ZM159.2,127.1 161.5,125.2 166.8,122.6 172.9,122.2 178.3,122.9 172.9,124.5 168.3,125.6 165.3,127.5 161.5,129.1ZM168.3,126 172.9,125.2 179.1,124.5 184.4,125.2 188.2,124.8 191.3,124.5 195.1,123.7 195.5,125.5 192.8,126 192,128.3 194.3,131.3 191.3,132.9 186.7,132.9 182.1,133.6 176.8,133.3 172.2,133.6 169.1,132.1 169.1,129.8 169.9,128.3ZM175.2,118.3 180.6,116.4 185.9,115.7 189.8,115.7 187.5,117.2 182.1,118.3 177.5,118.7ZM180.6,120.3 184.4,118.7 189.8,118.7 193.6,118.3 196.6,117.2 199.7,118.3 199.7,120.3 195.9,120.6 191.3,121 186.7,121.4 182.9,121ZM194.3,114.5 198.9,113.4 201.2,113.8 198.9,115.3 195.9,115.7ZM205.8,119.1 209.6,118 213.5,117.6 215,118.5 213.5,119.9 209.6,120.6 206.6,120.3ZM208,112.5 211.2,112.2 215,112.5 215,114.5 211.2,114.5 208,114ZM218,113.4 221.8,113.6 221,115.3 218,115ZM205,117.8 209,117.4 213.4,117.8 211,119.3 206,119.8ZM198.9,125.2 203.5,123.7 208.1,123.3 212,123 215,124 214.5,125.5 209.6,125.2 208.1,126.8 205,127.5 202,127.5 199.7,126.8ZM216.5,118 220.3,117.2 224.1,118 229.5,118.7 235.6,119.5 238.6,120.3 237.1,121.4 232.5,121.8 227.9,121.4 223.3,121 219.5,120.6ZM224.9,110.7 227.9,109.6 232.5,109.2 235.6,108 240.2,107.3 246.3,106.5 252.4,106 258.5,105.7 264.6,105.7 270,105.9 276,106.1 278,107 273,108.4 268,109.4 266.2,109.8 262.3,110.7 258.5,112.2 254.7,113.8 250.9,114.9 246.3,116.1 241.7,117.2 237.1,118 231.8,118 227.9,117.6 230.2,115.3 227.9,114.1 224.9,113ZM222,110.5 226,110 226.5,112 223,112.5ZM216.5,126.8 218.8,124.5 224.1,123.7 227.9,124.1 231.8,123.3 235.6,123.7 239.4,124.5 241.7,126.4 245.5,128.3 249.3,130.2 250.1,132.1 252.4,135.2 254.7,137.5 256.2,138.6 253.9,139.8 250.9,140.5 250.1,142 247.8,140.5 244,139.8 245.3,144.1 248.2,147.1 245.3,148.2 241.2,147.1 237.6,145.9 235.3,143.5 231.8,142.9 229.4,141.8 225.9,142.4 224,141.5 221,140 218,137 217,134 218.5,132 222,131.5 220.3,130.6 217.2,129.1ZM213,141.5 217,140.5 220,141.5 219,143.5 215,144 213,143ZM213,147.5 216,147 216.5,148 213.5,148.5Z" fill="#225ea8" class="c"/>
<path d="M104.4,153.2 107.6,155.1 111.5,156.4 112.8,160.3 113.5,164.8 111.5,165.5 110.2,161.6 108.3,157.7 105.7,155.8Z" fill="#0c2c84" class="c"/>
<path d="M111,181.6 114.5,181.6 130,181.6 150,181.6 170,181.6 175.9,182.4 181.8,183.5 186.5,185.3 190,188.2 191.8,191.8 190.6,195.3 188.2,200 193.5,198.2 198.2,196.5 202.9,194.7 207.6,192.9 212.4,191.2 217.1,188.8 220.6,187.1 223.5,186.1 224.1,191.8 225.3,194.1 220.6,193.5 217.1,195.3 214.7,197.6 215.3,200 210,201.2 205.3,203.5 202.9,205.9 200,208.2 199.6,212.9 197.1,217.8 192.2,222.8 187.2,225.2 183.9,229.4 184.7,234.3 183.9,240.9 181.6,242.8 180.6,239.2 179,232.6 175.7,231 173,230.5 167,230.6 163,232 157,232 151,235 145,239 143,241 142,239 138,234 134,231 131,227.4 127,226.2 120,226 111,225.4 106,224 104,220 101,217 99.4,213 99,207 100,203 102,198 104,194 106,190 108,187 110,185Z" fill="#0c2c84" class="c"/>
<path d="M106,224 111,225.4 120,226 127,226.2 131,227.4 134,231 138,234 142,239 143,241 143,245 142.6,251 144,255 147,259 151,261 154,260 157.6,254.1 161.2,253.5 165.9,252.9 166.5,254.7 164.7,257.6 162.9,261 161.8,261.2 160,261.8 158.8,262.9 155.3,263.5 154.7,266.5 152.4,267.6 151,266.6 147,267 143,266 139,264.6 133,262 128,259 125,255 123,250 120,246 117,240 114.6,234 113,229 112.6,226.6 111.4,231 113,236 115,241 116.6,248 115,249 112.6,245 109,239 107,234 106,229Z" fill="#1d91c0" class="c"/>
<path d="M160,261.8 161.8,261.2 162.6,263.5 161.2,266.5 159.8,266.8Z" fill="#ffffcc" class="c"/>
<path d="M155.3,263.5 158.8,262.9 159.8,266.8 161.2,267.6 159.4,270.6 157.6,271.8 155.3,271.2 152.9,269.4 152.4,267.6 154.7,266.5Z" fill="#7fcdbb" class="c"/>
<path d="M157.6,271.8 159.4,270.6 160.6,272.4 162.9,274.1 160,274.3 157.8,273Z" fill="#7fcdbb" class="c"/>
<path d="M161.2,267.6 167.1,267.3 171.8,268.8 172.7,271.2 169.4,270.8 165.3,272.9 162.9,274.1 160.6,272.4 159.4,270.6Z" fill="#c7e9b4" class="c"/>
<path d="M163.5,274.1 165.3,272.9 169.4,270.8 172.7,271.2 171.8,275.3 171.2,278.8 169.4,280 166.5,279.5 164.7,276.5Z" fill="#c7e9b4" class="c"/>
<path d="M166.5,279.5 169.4,280 171,281.5 173.5,284.1 172.4,287.1 170,285.3 167.6,282.9Z" fill="#7fcdbb" class="c"/>
<path d="M173.5,284.1 176.5,284.7 180.6,283.8 183.5,285.3 185.3,287.6 183.5,288.8 181.2,287.1 178.5,286.5 176.5,288.2 174.1,287.6Z" fill="#7fcdbb" class="c"/>
<path d="M171.1,251.8 173.2,250 175.8,248.9 178.4,248.4 181.5,248.9 184.1,250.2 186.7,250.7 188.7,252.5 191.3,253.8 193.9,255.1 194.7,256.2 192.4,256.7 189.8,256.7 187.7,256.7 187.2,255.9 185.6,254.4 183.5,252.8 181,251.3 178.4,250.5 176.3,250.5 174.2,251.3 172.1,252.3Z" fill="#c7e9b4" class="c"/>
<path d="M196.5,257.5 199.6,257.2 199.9,259 199.9,261.6 198.1,261.4 195.5,261.1 193.9,260.6 195.5,260.3 198.6,259.8 197.5,258.5ZM186,238.6 188.5,238 190.8,239.8 188.2,240.8ZM186.6,243 188.2,243.4 188.8,246.4 187.2,246Z" fill="#ffffcc" class="c"/>
<path d="M185.2,261.3 187.5,260.6 189.8,261.6 187.5,262.6ZM220.5,262.5 221.5,262.5 221.5,263.5 220.5,263.5ZM222,268 223,268 223,269 222,269ZM222.6,272 223.6,272 223.6,273 222.6,273ZM221.4,276.5 222.4,276.5 222.4,277.5 221.4,277.5Z" fill="url(#hatch)" stroke="#bbb" stroke-width=".4"/>
<path d="M199.6,257.2 202.2,257 205.3,258.2 207.9,260.3 206.3,261.1 203.2,261.1 201.2,261.6 200.4,262.7 199.9,261.6 199.9,259Z" fill="#7fcdbb" class="c"/>
<path d="M210,261 214,261 214,262.2 210,262.2Z" fill="url(#hatch)" stroke="#bbb" stroke-width=".4"/>
<path d="M185.3,287.6 187.1,283.5 190.6,280 194.1,278.2 197.6,277.1 199.4,277.4 197.1,280 195.5,280 196.9,285.7 202.6,292.7 206.8,295.6 207.5,299.8 208.2,305.5 206.8,305.5 202.6,306.2 201.9,311.2 200.5,316.8 196.9,316.1 192.7,314 189.1,312.6 188.4,309.7 184.2,307.6 179.9,306.2 180.6,303 182.4,300 183.5,295.3 184.1,291Z" fill="#41b6c4" class="c"/>
<path d="M199.4,277.4 202.4,278.2 205.9,280.6 210.6,280.6 215.3,281.2 220,281.2 222.4,283.5 224.7,287.1 226,288.5 222.4,292.7 223.8,297 219.6,299.8 215.3,303.4 211.1,306.9 208.2,305.5 207.5,299.8 206.8,295.6 202.6,292.7 196.9,285.7 195.5,280 197.1,280Z" fill="#7fcdbb" class="c"/>
<path d="M222.4,292.7 226,288.5 229.5,291.3 233.7,293.5 239.4,295.6 243.7,297.7 245.1,299.8 242.2,301.2 236.6,302.7 232.3,302 228.1,303.4 226,304.8 224.5,301.2 223.8,297Z" fill="url(#hatch)" stroke="#bbb" stroke-width=".4"/>
<path d="M202.6,306.2 206.8,305.5 208.2,305.5 211.1,306.9 215.3,303.4 219.6,299.8 223.8,297 224.5,301.2 226,304.8 228.1,303.4 232.3,302 236.6,302.7 242.2,301.2 245.1,299.8 247.2,306.2 250.7,309.7 255,311.2 260.7,314.7 266.3,316.1 272,318.2 277.6,321.1 281.9,323.9 282.6,328.2 279.8,333.8 276.2,339.5 274.8,346.6 273.5,355 272.6,360.1 269.2,367 264,369.6 258,372.2 254.6,377.3 253.8,382.4 250.3,388.4 246.9,394.5 245.6,396.2 243.5,391.9 240,388.4 236.6,387 238,382.4 240.9,377.3 240,373.9 236.6,371.3 233.2,367 231.5,361.9 231.5,358.4 232.3,359.3 230.9,355.1 226.7,349.4 223.8,345.2 218.2,342.3 213.9,339.5 212.5,334.5 208.2,335.2 202.6,336.7 196.9,333.8 194.8,331 194.1,326.7 195.5,323.2 198.3,321.1 200.5,316.8 201.9,311.2Z" fill="#1d91c0" class="c"/>
<path d="M177.1,308.3 179.9,306.2 184.2,307.6 188.4,309.7 189.1,312.6 185.6,315.4 182,319 179.2,320.4 177.1,318.2 176.4,314 176.8,311Z" fill="#7fcdbb" class="c"/>
<path d="M176.4,321.1 179.2,320.4 182,319 185.6,315.4 189.1,312.6 192.7,314 196.9,316.1 200.5,316.8 198.3,321.1 195.5,323.2 194.1,326.7 194.8,331 196.9,333.8 202.6,336.7 204,342.3 204.7,348 205.4,353.7 204,356.5 201.2,353.7 195.5,349.4 189.8,343.7 185.6,336.7 181.3,329.6 177.8,325.3Z" fill="#41b6c4" class="c"/>
<path d="M204,336.7 208.2,335.2 212.5,334.5 213.9,339.5 218.2,342.3 223.8,345.2 226.7,349.4 230.9,355.1 231.5,358.4 225.5,359.8 222,361.9 221.2,366.1 216,367.9 210.9,365.3 205.7,355 205.4,353.7 204.7,348 204,342.3Z" fill="#c7e9b4" class="c"/>
<path d="M222,361.9 225.5,359.8 231.5,358.4 231.5,361.9 233.2,367 236.6,371.3 240,373.9 240.9,377.3 238.3,379.9 234.9,379.9 232.3,377.3 226.3,372.2 222,367.9 221.2,364.4Z" fill="#7fcdbb" class="c"/>
<path d="M236.6,387 240,388.4 243.5,391.9 246,396.2 244.3,398.7 240.9,399.9 237.5,398.7 235.7,394.5 235.7,390.2Z" fill="#7fcdbb" class="c"/>
<path d="M210.9,367.9 216,367.9 221.2,366.1 222,367.9 226.3,372.2 232.3,377.3 234.9,379.9 238.3,379.9 236.6,387 235.7,390.2 235.7,394.5 237.5,398.7 240,404.7 238.3,409.9 231.5,411.6 229.7,415 228,420.2 226.3,423.6 224.6,428.8 227.2,435.6 225.5,440.8 226.3,444.2 229.7,446.8 234.9,450.2 236.6,451.6 231.5,451.9 226.3,449.3 225.5,445.1 221.2,444.2 216,440.8 213.4,435.6 211.7,428.8 210,421.9 210.9,415 211.7,406.5 210,397.9 209.2,389.3 209.2,380.7 210,372.2Z" fill="#41b6c4" class="c"/>
<path d="M202.3,355 204,356.5 205.7,355 210.9,365.3 210.9,367.9 210,372.2 209.2,380.7 209.2,389.3 210,397.9 211.7,406.5 210.9,415 210,421.9 211.7,428.8 213.4,435.6 216,440.8 221.2,444.2 225.5,445.1 226.3,449.3 231.5,451.9 226.3,451 221.2,448.5 216,445.9 212.6,440.8 210,433.9 209.2,427 207.4,420.2 206.6,413.3 205.7,406.5 204.9,397.9 204.9,389.3 204,380.7 204,372.2 203.2,363.6Z" fill="#41b6c4" class="c"/>
<path d="M254.7,114.5 259.4,112.7 267.6,110.4 275.9,108.6 285.3,107.6 293.5,107.4 299.4,106.8 306.5,106 315.9,105.6 325.3,106 333.5,106.8 341.8,108 345.3,108.8 339.4,109.8 335.9,110.9 334.7,113.3 333.5,116.8 332.4,119.8 331.2,122.7 327.6,125.1 325.3,128.6 322.9,130.9 318.2,132.7 312.4,134.5 306.5,136.8 300.6,139.2 294.7,141.5 290,143.9 286.5,147.4 284.1,150.9 281.8,153.9 278.2,153.3 274.7,151.5 272.9,147.4 271.2,142.7 270.6,138 272.4,134.5 273.5,132.1 271.8,129.8 273.5,126.2 274.7,122.7 273.5,120.4 270,118.6 264.1,117.4 258.2,116.8 255.3,116.2Z" fill="#ffffcc" class="c"/>
<path d="M321.2,140.9 322.9,139.8 327.6,140.1 332.4,139.4 337.1,139.2 338.8,142.1 335.9,143.9 331.2,145.3 326.5,145.1 322.9,143.9Z" fill="#7fcdbb" class="c"/>
<path d="M414.7,131.2 420,132.9 424.7,134.1 429.4,135.9 432.9,137.6 430.6,138.5 427.1,139.6 424.7,139.2 422.9,139.4 424.7,142.4 427.1,144.1 429.4,142.9 432.9,141.8 436.5,140 437.6,137.6 440,136.5 440.7,136.7 443.8,135.9 448.3,134.4 454.5,133.6 460.6,132.4 464.4,131.3 469.8,132.1 472.8,126 475.9,125.2 478.9,126.8 480.5,130.6 482,132 485,133.6 487.3,138.2 488.9,139 488.1,136.7 486.6,132.1 485,129 483.5,125.2 485,126 488.1,127.5 490.4,125.2 494.2,122.9 497.3,120.6 503.4,119.1 509.5,117.6 515.6,116.1 521.7,116.1 527.9,117.1 534,118.3 537,119.9 535.5,121.4 540.1,122.6 546.2,123.2 552.3,123.7 555,124.6 559.8,123.5 566.1,124.6 570.9,127 577.2,128.6 583.6,128.3 589.9,127 586.7,124.6 589.9,123.8 593.1,125.4 599.4,126.7 607.4,128.3 615.3,129.4 623.3,129.8 629.6,131.4 637.5,132.1 643.9,132.5 647.1,131 653.4,131.4 659.8,132.5 666.1,134.9 672.5,138.9 677.2,142.1 682,146 686,148.4 680.4,149.2 675.6,150.8 669.3,154 668,157 669,161 671,165 673.5,170 675,176 672,174 668,169 664,164 660,160 659,155 659,152.4 656.6,152.4 653.4,150.8 648.7,150.8 645.5,155.6 640.7,156.3 634.4,155.6 628,157.1 625,166 630,168 636,169 640,174 643,178 645.3,185 646,188 645.6,191.8 644.5,194.8 642.3,196.6 639.3,197 637.4,198.1 636.3,196.3 634.8,192.5 634.4,191 637,189.5 636.6,186.5 634,184 628,180 622,178 614,175 606,172 600,171 590,176 580,180 572,177 564,176 556,175 548,178 540,182 538,181 532,179 526,176 520,173 514,169 508,168 500,167 492,166 484,168 482,172 476,175 466,174 458,176 457,182 460,186 463,188 462.6,189.7 460.9,192.1 462.1,195.6 460.9,199 459.1,199.1 453.8,197.4 449.1,196.8 445,195 441.5,192.5 439,190 441.5,185.6 443.2,182.6 440.9,179.7 435,179.1 430.3,176.8 427.9,174.4 424.4,173.2 426.8,170.3 423.8,168.5 422.1,165.6 417.9,163.2 415.6,158.5 415,155 417.6,151.8 419.4,148.2 417.6,143.5 415.3,137.6 412.9,131.8ZM446.8,127.5 449.9,122.9 454.5,119.9 460.6,118 466.7,117.1 465.2,119.1 459.1,120.6 454.5,122.9 452.9,126 455.2,129 451.4,129.8 447.6,129.8ZM574,119 580.4,118.7 586.7,119.8 583.6,121 577.2,121ZM588.3,119.8 596.3,120.3 593.1,121.1ZM655,128.3 658,128.6 657.5,129.4 655,129.2ZM493.5,109.9 498.8,109.5 506.5,111.5 512.6,113 517.2,113.8 515.6,115.3 509.5,114.5 503.4,113 497.3,112.2ZM430,109.6 435.4,109.8 434,110.8 430,110.6ZM639,169 644,174 649,179 653,183 655,186.5 657.3,188.4 655.8,188.8 653.5,187.3 650,184 645,179 641,174ZM402,166.2 404.6,165.8 405,167.4 402.4,167.6Z" fill="#1d91c0" class="c"/>
<path d="M374.1,157.6 372.4,154.1 372,150.6 373.5,148.2 377.6,146.5 381.2,143.5 384.7,140 388.2,136.5 391.8,133.5 396.5,131.4 401.2,130 407.1,128.8 411.8,129.4 414.7,131.2 412.9,131.8 415.3,137.6 417.6,143.5 419.4,148.2 417.6,151.8 415,155 412.9,153.5 408.2,154.1 403.5,153.5 401.2,151.8 401.8,148.2 402.4,144.7 404.1,142.9 406.5,141.8 404.7,140.9 401.8,141.8 398.8,144.1 396.5,147.1 394.7,150.6 395.3,154.1 396.5,156.5 395.3,158.8 391.8,162.4 389.4,164.7 387.1,165.3 385.3,162.4 384.1,160 382.4,157.6 380,158.8 376.5,158.2ZM379.4,161.2 381.8,160 382.9,162.4 382.4,165.3 380.6,167.1 378.8,166.5 378.8,163.5ZM384,163.5 386,163 386.5,165 384.5,165.5Z" fill="#1d91c0" class="c"/>
<path d="M384.1,160 384.7,155.3 384.1,149.4 385.9,143.5 389.4,138.8 392.9,135.3 397.6,133.5 402.4,132.9 405.9,131.8 409.4,131.2 411.8,129.4M404.1,142.9 403.5,137.6 402.4,132.9" fill="none" class="c"/>
<path d="M351.8,158.8 356.5,157.6 357.6,160.6 357.1,164.7 360,167.1 362.9,170.6 365.3,172.9 365.9,175.3 363.5,176.5 360,177.6 356.5,178.2 352.4,178.8 355.3,176.5 354.1,174.1 355.9,171.8 354.1,169.4 352.9,165.9 351.8,162.4ZM344.1,169.4 347.1,167.1 350.6,166.5 351.8,169.4 351.2,172.4 348.2,174.1 344.7,174.7 343.5,172.4Z" fill="#225ea8" class="c"/>
<path d="M354.1,182.9 357.6,181.8 363.5,180.6 368.2,177.1 370.6,175.9 373.5,177.5 375.9,180.6 376.3,182.4 376.3,184.8 375.9,187.6 377,188 377.5,190.5 377.5,191.2 375,193.5 372,194.5 369.4,195.9 365.9,197.6 361.2,196.5 358.8,195.3 360.6,191.8 360,188.2 357.6,185.3 354.1,184.7ZM381.5,195.8 382.7,195.6 382.9,197.2 381.5,197.3Z" fill="#225ea8" class="c"/>
<path d="M344.7,196.5 349.4,195.9 354.1,196.5 358.8,195.9 363.5,197.6 367.1,198.8 365.9,200.6 363.5,202.9 361.8,206.5 360,209.4 356.5,211.8 352.4,212.4 350,211.8 348.2,209.4 348.5,206 348.5,202.4 348.2,198.2 345,198Z" fill="#225ea8" class="c"/>
<path d="M344.1,197.6 348.2,198.2 348.5,202.4 348.2,207.1 347.6,211.8 345.3,211.8 344.1,208.2 343.5,203.5 343.5,200Z" fill="#1d91c0" class="c"/>
<path d="M377,188 380,187 384,186.5 388,186.8 390,188 391,188.1 392.1,189.9 389,189.5 387.5,190 388,193 391,197 395,200 399,202 401,204 399,205 397,204.5 396.5,207 395,209 393.5,209.5 394,207 392.5,204 389,201 385,197 382,194.5 380,193 378.5,192 377.5,190.5ZM390,210 394,209.5 396,210.5 394.5,213 391.5,212.5ZM381,198 383,197.5 383.5,202 383,206.5 381,207 380.5,203Z" fill="#225ea8" class="c"/>
<path d="M376.3,184.8 381.2,185 384.7,185.1 383.5,188.2 380.6,189.4 377.6,188.8 375.9,187.6Z" fill="#225ea8" class="c"/>
<path d="M376.5,169.4 380,167.6 384.7,168.2 389.4,168.8 391.2,171.8 391.8,175.3 388.2,177.6 389.4,181.2 390.8,182.6 389.4,184 385.9,184.6 381.2,185 377.6,184 376.3,182.4 375.9,178.8 375.3,175.3 375.3,171.8Z" fill="#0c2c84" class="c"/>
<path d="M371.8,170.6 375.3,170.6 375.3,171.8 375.9,174.1 372.9,175.3 371.2,173.5Z" fill="#225ea8" class="c"/>
<path d="M368.8,175.6 372.9,175.3 375.9,174.1 375.3,175.3 375.9,178.8 373.5,177.5 370.6,175.9Z" fill="#1d91c0" class="c"/>
<path d="M391.8,169.4 398.8,167.6 404.7,167.1 408.2,169.4 409.4,174.1 410,178.8 407.1,181.2 402.4,180 397.6,178.8 392.9,177.6 391.8,175.3 391.2,171.8Z" fill="#1d91c0" class="c"/>
<path d="M388.2,177.6 392.9,177.6 397.6,178.8 400,181.2 396.5,182.9 391.8,182.4 389.4,181.2Z" fill="#1d91c0" class="c"/>
<path d="M384.7,185.1 389.4,184 391.8,182.9 395.3,183.5 397.1,184.1 396.5,186.5 395.3,187.1 390.6,187.6 387.1,187.6 383.5,188.2Z" fill="#1d91c0" class="c"/>
<path d="M397.6,181.2 400,181.2 403.5,180.6 407.6,182.4 405.9,184.1 401.2,184.7 397.1,184.1Z" fill="#41b6c4" class="c"/>
<path d="M396.5,186.5 397.1,184.1 401.2,184.7 405.9,184.1 407.6,184.1 408.2,186.5 405.9,188.8 401.2,189.4 397.6,188.2Z" fill="#1d91c0" class="c"/>
<path d="M406.8,185 411.5,183.8 415,183.8 417.9,183.2 420.3,186.2 421.5,189.1 422.6,190.3 420.9,192.1 417.4,193.2 412.6,193.8 409.1,193.2 406.8,191.5 406.2,188.5 405.9,188.8 408.2,186.5 407.6,184.1Z" fill="#1d91c0" class="c"/>
<path d="M417.9,183.2 420.3,183.8 422.1,186.2 423.2,189.7 421.5,189.1 420.3,186.2Z" fill="#ffffcc" class="c"/>
<path d="M409.7,175 413.8,175 418.5,174.4 424.4,173.2 427.9,174.4 430.3,176.8 435,179.1 440.9,179.7 443.2,182.6 441.5,185.6 437.4,187.4 435,188.5 432.6,190.9 430.3,191.5 427.9,190.3 426.2,188.5 423.8,189.1 423.2,189.7 422.1,186.2 420.3,183.8 417.9,183.2 415,183.8 411.5,183.8 408.5,183.2 407.9,180.3 409.1,177.9Z" fill="#7fcdbb" class="c"/>
<path d="M413.8,164.4 417.9,163.2 422.1,165.6 423.8,168.5 426.8,170.3 424.4,173.2 418.5,174.4 413.8,175 409.7,175 409.4,174.1 408.2,169.4 409.1,169.1 412.6,167.4Z" fill="#7fcdbb" class="c"/>
<path d="M406.8,155.6 415,155 415.6,157.9 412.6,159.7 407.9,159.7 406.2,157.9Z" fill="#7fcdbb" class="c"/>
<path d="M403.8,160.9 407.9,159.7 412.6,159.7 415.6,158.5 417.4,163.2 413.8,164.4 409.1,163.8 405,163.8Z" fill="#7fcdbb" class="c"/>
<path d="M405,163.8 409.1,163.8 413.8,164.4 412.6,167.4 409.1,169.1 406.2,167.9 404.4,166.2Z" fill="#41b6c4" class="c"/>
<path d="M409.1,193.2 412.6,193.8 417.4,193.2 420.9,192.1 421.5,195.6 419.7,198.5 416.2,199.1 412.6,199.7 410.3,197.9 409.7,195.6Z" fill="#7fcdbb" class="c"/>
<path d="M391,188.1 393.5,187.8 395.6,188.5 394.9,189.9 392.1,189.9Z" fill="#41b6c4" class="c"/>
<path d="M392.1,189.9 394.9,189.9 397,189.2 401.2,189.9 403.3,190.6 402.6,192 399.8,191.3 396.3,191.3 397,194.1 399.1,196.9 401.9,198.7 401.2,199.4 398.4,197.6 395.6,195.2 393.5,193.4 392.4,191.6Z" fill="#7fcdbb" class="c"/>
<path d="M396.3,191.3 399.8,191.3 402.6,192 403.7,193.8 403.3,196.2 401.9,198 399.8,196.9 397.7,194.8 396.6,193.1Z" fill="#c7e9b4" class="c"/>
<path d="M402.6,189.2 405.5,188.8 407.6,190.6 408.3,192.7 409.7,194.8 409,196.9 406.9,197.6 405.5,196.9 403.7,196.2 403.7,193.8 402.6,192Z" fill="#7fcdbb" class="c"/>
<path d="M401.9,196.6 403.7,196.4 404.4,198 403,199.1 401.9,198ZM405.5,196.9 407.2,196.9 407.9,198.3 406.5,199.1 405.5,198.2Z" fill="#ffffcc" class="c"/>
<path d="M406.5,199.1 409,198.3 410.8,199.4 410.4,201.2 408.3,201.9 406.9,201.2ZM404.1,198.7 405.5,198.2 406.5,199.4 406.9,201.2 407.2,203.3 406.2,205.1 405.1,204 404.4,201.9Z" fill="#c7e9b4" class="c"/>
<path d="M406.2,205.1 407.2,203.3 408.3,201.9 410.4,201.2 413.2,201.2 416.1,200.8 414.5,202.2 412.9,202.9 411.2,204.2 410.4,206.1 411.8,208.2 413.2,209.6 413.9,211.1 412.2,212.5 410.8,213.2 409.3,211.1 408.6,208.9 407.9,207.2 406.9,206.1ZM413.9,216.3 416.1,216.1 419.6,216.7 418.9,217.5 415.3,217.4Z" fill="#41b6c4" class="c"/>
<path d="M410.4,194.5 413.2,194.1 416.8,193.8 420.3,194.1 421.7,194.8 421,196.9 420.3,199.8 418.2,200.1 416.1,200.8 413.2,201.2 411.1,200.8 410.8,199.4 409.7,196.9 409.7,194.8Z" fill="#7fcdbb" class="c"/>
<path d="M416.1,200.8 418.2,200.1 420.3,200.5 421,201.5 419.6,202.6 419.6,203.3 421.7,202.2 424.5,201.2 427.3,200.5 430.2,199.8 434.4,199.4 438.6,199.8 442.9,200.5 446.8,200.9 450.3,200.9 455,201.5 458.5,203.8 458.5,207.4 460.9,210.9 456.2,212.6 451.5,213.2 446.8,212.6 442.1,213.2 441.5,212.8 438.6,213.2 435.8,212.5 433,212.1 430.2,213.2 427.3,213.9 424.5,212.8 422.4,211.1 421,208.9 419.9,206.8 419.6,204.7Z" fill="#1d91c0" class="c"/>
<path d="M433.7,216.7 436.5,216 437.6,217 435.1,218.1Z" fill="#41b6c4" class="c"/>
<path d="M449.1,196.8 453.8,197.4 459.1,199.1 460.9,201.5 457.4,201.5 452.6,200.3 449.7,199.5ZM455,201.5 458.5,201.5 459.5,204 458.5,205.5 457,203.8Z" fill="#7fcdbb" class="c"/>
<path d="M457.4,201.5 460.9,201.5 462,200.5 464,203.5 463.5,206 460.5,205.5 459.5,204 458.5,201.5Z" fill="#41b6c4" class="c"/>
<path d="M356,217 366,214 374,213 381,212 385,211.6 387,216 387,222 394,224 402,226 406,228 410,224 416,225 419,227 426,226 434,228 436,228 438,234 441,239 444,246 446,251 447,258 450,264 455,268 460,277 462,280 468,282 478,278 480,279 478,286 472,296 466,304 460,310 456,314 452.6,320.1 453.3,325.3 453.9,331.8 455.2,336.9 455.7,345.4 452.5,350.5 447.3,354.4 443.4,358.3 442.1,363.5 443.4,368.6 439.5,372.5 435.6,375.1 435.6,379 434.4,382.9 430.5,386.8 426.6,390.6 421.4,394.5 414.9,397.1 409.8,397.8 405.9,399.1 403.3,397.1 402.6,391.9 401.4,388.1 400.1,382.9 397.5,377.7 395.5,371.2 392.9,363.5 391,358.3 389.7,354.4 390.5,353.8 389.9,348.6 391.2,342.1 393.1,335.6 391.8,330.5 391.2,326.6 391.8,324.6 391.8,322.7 389.9,319.5 389.2,318.8 386.6,317.5 383.4,312.4 383.4,309.1 384.1,306.5 384.7,303.3 383.4,298.1 382.8,294.2 379.5,297.6 374.8,296.5 371.3,293.6 366.6,292.4 364.3,293.6 359.7,295.3 356.2,295.3 350.3,295.9 345.1,297.1 344.5,296.5 341,294.1 337.5,290.6 334.6,288.3 332.2,286 331.7,281.3 328.7,279 325.2,277.8 324.7,275.5 324.7,272.6 322.9,269.7 325.8,260.3 325.2,256.8 324.7,253.9 327,246.3 330.5,240.5 334.6,236.4 338,234.5 341,232 343,228 344,223 347,220 350,219Z" fill="#ffffcc" class="c"/>
<path d="M334.6,236.4 338,234.5 341,232 343,228 344,223 347,220 350,219 356,217 359,219 360,224 357,227 352,230 348,233 344,236 343.3,237Z" fill="#41b6c4" class="c"/>
<path d="M334.6,236.4 343.3,237 343.3,238.2 342.7,240.5 335.2,241.1 334.6,247.5 334,253.3 324.7,253.9 327,246.3 330.5,240.5Z" fill="url(#hatch)" stroke="#bbb" stroke-width=".4"/>
<path d="M356,217 366,214 374,213 381,212 383,218 383,228 385,234 388,248 380,253 372,258 371.3,258.6 364,252 356,246 348.6,242.8 343.3,238.2 343.3,237 344,236 348,233 352,230 357,227 360,224 359,219Z" fill="#7fcdbb" class="c"/>
<path d="M381,212 385,211.6 387,216 387,222 385,227 383,228 383,218Z" fill="#7fcdbb" class="c"/>
<path d="M385,227 387,222 394,224 402,226 406,228 410,224 416,225 419,227 419,256 417,257 408,253 398,249 390,247 388,248 385,234Z" fill="#7fcdbb" class="c"/>
<path d="M419,227 426,226 434,228 436,228 438,234 441,239 444,246 446,251 420,251 419,246Z" fill="#1d91c0" class="c"/>
<path d="M420,251 446,251 447,258 450,264 447,268 444,272 442,276 439,280 436,282 428,282 421,282 418,279 416,274 415,268 417,260 417,257 419,256Z" fill="#ffffcc" class="c"/>
<path d="M421,282 428,282 436,282 439,280 441,284 444,290 440,296 434,298 428,295 422,289 420,285Z" fill="url(#hatch)" stroke="#bbb" stroke-width=".4"/>
<path d="M447,268 450,264 455,268 460,277 457,273 450,270Z" fill="url(#hatch)" stroke="#bbb" stroke-width=".4"/>
<path d="M440,272 442,276 444,272 447,268 450,270 457,273 460,277 462,280 468,282 471,286 464,294 458,298 452,298 444,296 440,296 444,290 441,284 439,280Z" fill="#c7e9b4" class="c"/>
<path d="M462,280 468,282 478,278 480,279 478,286 472,296 466,304 460,310 458.5,306 458,298 464,294 471,286Z" fill="#ffffcc" class="c"/>
<path d="M441,298.8 442.3,295.5 448.8,296.8 452.6,298.8 458.5,299.4 460,310 456,314 452.6,320.1 447.5,316.2 441.6,311.7 442.3,307.2 442.9,302Z" fill="#7fcdbb" class="c"/>
<path d="M433.9,299.4 441,298.8 442.9,302 442.3,307.2 439.7,311.7 435.8,311.7 432.6,310.4 433.2,304.6Z" fill="#c7e9b4" class="c"/>
<path d="M435.8,311.7 441.6,311.7 447.5,316.2 452.6,320.1 453.3,325.3 453.9,331.8 455.2,336.9 450.1,338.2 446.2,338.9 442.3,338.2 438.4,334.4 434.5,331.8 432,329.2 431.3,324 430.6,318.8 432.6,316.2Z" fill="#7fcdbb" class="c"/>
<path d="M398,249 408,253 417,257 417,260 415,268 416,274 414,280 410,284 404,286 400,288 398,282 397,276 398,270 399,262 398,255Z" fill="#ffffcc" class="c"/>
<path d="M372,258 380,253 388,248 390,247 398,249 398,255 399,262 398,270 394,274 386,274 380,273 372,272 370,269 372,264Z" fill="#ffffcc" class="c"/>
<path d="M343.3,238.2 348.6,242.8 356,246 364,252 371.3,258.6 371.9,263.8 370.1,268.5 364.3,270.2 359.7,269.7 355,272 351.5,275.5 349.2,279 346.8,281.3 343.3,280.1 342.2,276.6 337.5,274.3 336.3,269.7 350.3,268.5 349.7,255.7 349.2,246.3Z" fill="#ffffcc" class="c"/>
<path d="M324.7,253.9 334,253.3 334.6,247.5 335.2,241.1 342.7,240.5 343.3,238.2 349.2,246.3 349.7,255.7 350.3,268.5 337.5,269.1 335.2,266.2 331.7,265 327,265 325.8,260.3 325.2,256.8Z" fill="#ffffcc" class="c"/>
<path d="M322.9,269.7 327,266.2 331.7,266.2 335.2,269.7 336.3,274.3 334,275.5 329.3,275.5 325.2,275.5 324.7,272.6Z" fill="#c7e9b4" class="c"/>
<path d="M324.7,275.5 329.3,276.1 328.7,279 325.2,277.8Z" fill="#ffffcc" class="c"/>
<path d="M329.3,276.1 336.3,274.3 342.2,276.6 343.3,281.3 342.2,286 339.8,287.1 337.5,283.6 335.2,281.9 331.7,281.3 328.7,279Z" fill="#c7e9b4" class="c"/>
<path d="M331.7,281.3 335.2,281.9 337.5,283.6 337.5,287.1 334.6,288.3 332.2,286Z" fill="#ffffcc" class="c"/>
<path d="M337.5,287.1 339.8,287.1 342.2,288.3 343.3,291.8 344.5,296.5 341,294.1 337.5,290.6Z" fill="url(#hatch)" stroke="#bbb" stroke-width=".4"/>
<path d="M343.3,282.5 346.8,281.3 351.5,282.5 356.2,283.1 356.2,295.3 350.3,295.9 345.1,297.1 343.9,291.8 342.7,288.3Z" fill="#7fcdbb" class="c"/>
<path d="M351.5,275.5 355,272 359.7,269.7 364.3,270.2 366.6,274.3 370.1,276.6 369,279 364.3,280.1 358.5,280.7 356.2,283.1 351.5,282.5 349.2,279Z" fill="#ffffcc" class="c"/>
<path d="M356.2,280.7 363.1,280.4 363.7,284.8 364.3,293.6 359.7,295.3 356.2,295.3 356.2,286Z" fill="#7fcdbb" class="c"/>
<path d="M363.7,280.7 365.5,280.7 366.1,291.8 364.5,293ZM365.5,279 369,277.8 370.7,281.3 370.1,291.8 366.6,292.4 366.1,286Z" fill="#ffffcc" class="c"/>
<path d="M371.3,276.6 374.8,274.3 380.6,274.9 386.5,274.3 392.3,274.9 395.8,276.6 394.6,280.1 392.3,284.8 390,290.6 385.3,295.3 379.5,297.6 374.8,296.5 371.3,293.6 370.7,286 370.7,281.3Z" fill="url(#hatch)" stroke="#bbb" stroke-width=".4"/>
<path d="M382.8,294.2 387.9,290.4 393.1,285.2 396.4,280 397,276 398,282 400,288 398,290 399,299.4 395.7,303.3 391.8,303.3 387.9,303.3 384.1,303.3 383.4,298.1Z" fill="#c7e9b4" class="c"/>
<path d="M398,290 400,288 404,286 410,284 414,280 420,285 422,289 424,294 420,296 417.7,295.5 411.2,296.8 404.8,298.1 402.8,299.4 399,299.4Z" fill="#ffffcc" class="c"/>
<path d="M384.7,303.3 387.9,303.3 387.9,305.9 384.4,305.9Z" fill="#ffffcc" class="c"/>
<path d="M384.1,306.5 387.9,305.9 391.8,304.6 395.1,305.9 395.1,311.1 393.1,314.9 389.2,318.8 386.6,317.5 383.4,312.4 383.4,309.1Z" fill="#7fcdbb" class="c"/>
<path d="M395.1,305.9 398.3,300.7 402.8,299.4 404.8,302 403.5,307.2 401.5,312.4 399.6,316.2 395.7,320.1 391.8,321.4 389.9,319.5 393.1,314.9 395.1,311.1Z" fill="#c7e9b4" class="c"/>
<path d="M404.8,298.1 411.2,296.8 417.7,295.5 420,296 424.2,296.2 429.4,296.8 433.9,299.4 433.2,304.6 432,308.5 432,313.6 430.6,318.8 431.3,324 433.2,329.2 429.4,333.1 429.4,336.9 430.6,342.1 428.1,340.8 425.5,339.5 421.6,340.8 417.7,338.2 413.8,336.9 412.5,333.1 412.5,329.2 408.6,327.9 406.1,329.2 402.2,327.9 400.9,324.6 393.1,324.6 391.8,322.7 395.7,320.1 399.6,316.2 401.5,312.4 403.5,307.2 404.8,302Z" fill="#7fcdbb" class="c"/>
<path d="M431,313.5 433,313.8 432.6,317 430.8,316.5Z" fill="url(#hatch)" stroke="#bbb" stroke-width=".4"/>
<path d="M431.5,310.5 433.5,310.6 433,313.5 431,313.3Z" fill="#ffffcc" class="c"/>
<path d="M391.8,324.6 400.9,324.6 402.2,327.9 406.1,329.2 408.6,327.9 412.5,329.2 412.5,333.1 413.8,336.9 413.8,342.1 413.8,351.2 416.4,354.4 411.1,355.7 399.4,355.1 389.7,354.4 389.9,348.6 391.2,342.1 393.1,335.6 391.8,330.5 391.2,326.6Z" fill="#7fcdbb" class="c"/>
<path d="M413.8,342.1 417.7,339.5 421.6,340.8 425.5,339.5 428.1,340.8 430.6,342.1 429.4,336.9 429.4,333.1 432,331.8 435.8,331.8 438.4,334.4 439.7,338.2 439.7,342.1 437.1,344.1 433.2,344.7 429.4,347.3 425.5,352.5 420.3,355.1 416.4,354.4 413.8,351.2 413.8,346ZM439.7,338.2 442.3,338.2 443.6,343.4 444.9,348.6 442.3,351.8 441,347.3 439.7,343.4Z" fill="url(#hatch)" stroke="#bbb" stroke-width=".4"/>
<path d="M442.3,338.2 446.2,338.9 450.1,338.2 455.2,336.9 455.7,345.4 452.5,350.5 447.3,354.4 443.4,358.3 442.1,363.5 443.4,368.6 439.5,372.5 435.6,375.1 434.4,371.2 435.6,364.8 437.6,359.6 436.9,353.1 440.8,351.8 443.4,350.5 444.9,348.6 443.6,343.4Z" fill="#c7e9b4" class="c"/>
<path d="M421.4,356.4 427.9,354.4 433.1,351.2 436.9,353.1 437.6,359.6 435.6,364.8 431.8,367.4 427.9,365.4 424,360.9Z" fill="#ffffcc" class="c"/>
<path d="M389.7,354.4 399.4,355.1 411.1,355.7 416.4,354.4 418.8,354.4 421.4,356.4 416.2,355.7 410.4,357 409.1,366.1 409.1,373.8 407.8,373.8 407.2,379 404.6,384.8 400.1,382.9 397.5,377.7 395.5,371.2 392.9,363.5 391,358.3Z" fill="#ffffcc" class="c"/>
<path d="M410.4,357 416.2,355.7 421.4,356.4 424,360.9 427.9,365.4 424,368.6 420.1,373.8 414.9,376.4 411.1,377.7 409.1,373.8 409.1,366.1Z" fill="#c7e9b4" class="c"/>
<path d="M400.1,382.9 404.6,384.8 407.2,379 409.1,373.8 411.1,377.7 414.9,376.4 420.1,373.8 424,368.6 427.9,367.4 431.8,367.4 433.7,369.9 434.4,373.8 435.6,379 434.4,382.9 430.5,386.8 426.6,390.6 421.4,394.5 414.9,397.1 409.8,397.8 405.9,399.1 403.3,397.1 402.6,391.9 401.4,388.1Z" fill="#1d91c0" class="c"/>
<path d="M423.4,386.1 426.6,384.2 427.9,386.1 425.3,388.7 423.4,388.1ZM431.8,376.4 434.4,376.2 434.4,379.6 432.4,379.6Z" fill="#ffffcc" class="c"/>
<path d="M476.4,340.8 478.4,347.9 475.8,357 473.2,364.8 470.6,371.9 466.7,375.1 462.8,373.8 460.9,367.4 462.8,359.6 464.1,353.1 469.3,349.2 473.2,345.4Z" fill="#c7e9b4" class="c"/>
<path d="M443.2,228.3 449,226 454.8,228.3 461.8,231.8 466.5,232.4 468.3,234.2 470,234.2 473.5,236.5 475.8,240 478.2,242.3 479.9,244.7 481.7,247 486.3,248.2 487.5,250.5 488.7,255.2 485.2,257.5 479.3,259.8 473.5,262.2 468.8,263.9 464.2,264.5 460.7,263.3 458.3,259.8 455.4,255.2 452.5,250.5 449,245.8 445.5,240 442,235.3 440.3,231.8 441,229.5Z" fill="#1d91c0" class="c"/>
<path d="M460.7,263.3 464.2,264.5 468.8,263.9 473.5,262.2 479.3,259.8 481.7,261 484,264.5 479.3,268 473.5,270.3 467.7,272.7 463,273.8 460.7,271.5 460.1,266.8Z" fill="url(#hatch)" stroke="#bbb" stroke-width=".4"/>
<path d="M489.3,241.2 491,243.5 493.3,246.4 496.8,249.3 498,251.7 494.5,256.3 491,259.8 486.3,263.3 484,264.5 481.7,261 485.2,257.5 488.7,255.2 487.5,250.5 488.7,248.2 489.8,243.5Z" fill="#41b6c4" class="c"/>
<path d="M481.7,247 486.3,244.7 488.1,242.3 489.3,241.2 489.8,243.5 488.7,248.2 487.5,250.5 486.3,248.2ZM479.5,243.5 480.6,243.3 480.8,245.5 479.6,245.4Z" fill="#1d91c0" class="c"/>
<path d="M449,213.2 458.3,210.8 463,212 464.2,217.8 466.5,223.7 468.8,228.3 468.8,231.3 466.5,232.4 461.8,231.8 454.8,228.3 449,226 447.8,222.5 449,217.8Z" fill="#41b6c4" class="c"/>
<path d="M442,215.5 445.5,213.2 449,213.2 449,217.8 447.8,222.5 445.5,223.7 442.6,222.5 441.4,219Z" fill="#c7e9b4" class="c"/>
<path d="M442.6,222.5 445.5,223.7 447.8,222.5 449,226 443.2,228.3 442,227.2 442.2,224.8Z" fill="#41b6c4" class="c"/>
<path d="M466.5,232.4 468.8,231.3 470,233.6 468.3,234.2Z" fill="#41b6c4" class="c"/>
<path d="M439.7,220.2 441.4,219 442.6,222.5 442.2,224.8 442,227.2 441,229.5 440.3,228 439.7,226Z" fill="url(#hatch)" stroke="#bbb" stroke-width=".4"/>
<path d="M460.9,210.9 459.8,207.2 461,205.5 463.5,206.2 465.5,208.5 470,208.5 475.8,210.8 481.7,209.7 487.5,210.8 493.3,212 495.7,215.5 496.8,221.3 498,228.3 500.3,233 502.7,237.7 501.5,240 495.7,240 489.8,238.8 486.3,240 481.7,240 477,237.7 473.5,234.2 470,230.7 468.8,228.3 466.5,223.7 464.2,217.8Z" fill="#1d91c0" class="c"/>
<path d="M458,176 466,174 476,175 482,172 484,168 492,166 500,167 508,168 514,169 520,173 526,176 532,179 538,181 540,182 538.6,182.1 535.7,184.2 531.5,185.7 530.1,191.3 531.5,194.2 530.1,198.4 523,197 515.9,197 511.7,198.4 510.2,204.1 506,201.2 501.7,198.4 497.5,195.6 490.4,194.2 483.3,190.6 479.1,191.3 479.1,197 480.5,201.2 476.2,204.1 472,200.5 467.7,197 469.2,192.7 470.6,188.5 464.9,187.8 460.7,192.7 457,186 457,182Z" fill="#41b6c4" class="c"/>
<path d="M476.2,204.1 480.5,201.2 487.6,198.4 493.2,201.2 497.5,205.5 501.7,209.7 498.9,214 496.1,215.4 491.8,211.9 486.2,210.5 480.5,210.5 477.7,209.7Z" fill="url(#hatch)" stroke="#bbb" stroke-width=".4"/>
<path d="M479.1,191.3 483.3,190.6 490.4,194.2 497.5,195.6 501.7,198.4 506,201.2 510.2,204.1 511.7,206.9 507.4,208.3 503.2,207.6 497.5,205.5 493.2,201.2 487.6,198.4 480.5,201.2 479.1,197Z" fill="#7fcdbb" class="c"/>
<path d="M511.7,198.4 515.9,197 523,197 530.1,198.4 528.7,201.2 524.4,202.7 520.2,204.1 515.9,203.4 513.1,202.7ZM508.8,205.5 513.1,204.1 517.3,204.8 520.2,205.5 523,208.3 521.6,211.2 517.3,211.9 514.5,209.7 511.7,211.2 510.2,208.3Z" fill="#ffffcc" class="c"/>
<path d="M498.9,214 501.7,209.7 507.4,208.3 511.7,211.2 514.5,209.7 517.3,211.9 521.6,211.2 521.6,214 517.3,215.4 514.5,218.2 513.1,223.9 510.2,228.2 506,231 500.3,231 498.9,226.7 497.5,221.1 496.1,215.4Z" fill="url(#hatch)" stroke="#bbb" stroke-width=".4"/>
<path d="M500.3,231 506,231 510.2,228.2 513.1,223.9 514.5,218.2 517.3,215.4 521.6,214 525.8,214.7 528.7,218.2 524.4,221.1 525.8,225.3 523,231 518.7,236.7 520.2,242.3 517.3,245.2 511.7,243.7 507.4,242.3 501.7,242.3 503.2,238.1 501.7,233.8Z" fill="#7fcdbb" class="c"/>
<path d="M538.6,182.1 540,182 545.9,185.3 549.4,190.6 556.5,194.1 565.3,196.8 574,198.5 580,199 588,198 594,194 598,190 604,189 607,186 600,184 600,171 606,172 614,175 622,178 628,180 634,184 636.6,186.5 637,189.5 634.4,191 634.8,192.5 636.3,196.3 637.4,198.1 635.5,200 633.3,202.3 631,204.5 630.3,206.8 627.9,205 625.3,205.6 620,206.5 616.5,208.2 620,210.9 625.3,212.6 626.2,217.1 628.8,222.4 631.5,227.6 633.2,232.9 632.4,238.2 629.7,243.5 625.3,248.8 620,252.4 614.7,254.1 611.2,255.9 607.6,254.1 604.1,252.4 600.6,250.6 595.3,250.6 588.2,247.1 584.7,243.5 582.9,238.2 581.2,234.7 577.6,232.9 575,232.4 569.7,235.2 565.5,236.7 559.8,237.4 554.2,235.2 545.7,232.4 540,229.6 535.7,225.3 532.9,219.7 528.7,218.2 525.8,214.7 521.6,214 521.6,211.2 523,208.3 524.4,202.7 528.7,201.2 530.1,198.4 531.5,194.2 530.1,191.3 531.5,185.7 535.7,184.2ZM609.4,256.5 613,255.9 614.7,258.5 612,261.2 609.5,259.5ZM634.1,243 636,242.6 636.8,247 635.2,251.5 633.8,249Z" fill="url(#hatch)" stroke="#bbb" stroke-width=".4"/>
<path d="M540,182 548,178 556,175 564,176 572,177 580,179 588,179 596,182 600,184 607,186 604,189 598,190 594,194 588,198 580,199 574,198.5 565.3,196.8 556.5,194.1 549.4,190.6 545.9,185.3Z" fill="#7fcdbb" class="c"/>
<path d="M637.4,198.1 635.5,200 633.3,202.3 631,204.5 630.3,206.8 632.5,207.5 634,209 636.3,208.3 637,206 636.3,203.8 637.4,201.5 638.5,199.3Z" fill="url(#hatch)" stroke="#bbb" stroke-width=".4"/>
<path d="M634,209.8 637,208.6 640,210.5 642.3,212.8 643.4,215 643,217.3 640.8,218.4 638.5,218.8 637.4,216.5 636.3,214.3 635.5,212.4ZM655.8,191 658,191.8 661,193.3 664,193.3 666.3,195.5 664,197 661.8,198.5 659.5,200 657.3,199.3 656.1,197 656.5,194.8ZM660.3,200.8 662.5,201.9 664.8,204.5 665.9,207.5 666.3,210.5 667.4,213.5 667.8,215.8 665.9,217.3 663.3,218 661,219.5 658.8,218.8 655,218.6 652.8,219 650.5,220 648.3,221.8 646.4,221.8 647.5,219.5 649.8,217.3 652,215.8 655,215 657.5,214 658,211.6 660.3,210.5 661.8,209 661.8,206.8 661,204.5 659.9,202.3ZM647.5,221.8 649.8,221 651.6,222.5 652,224.8 651.3,227 649.8,227.4 649,225.5 647.5,224ZM652.8,220.3 655.8,219.5 657.3,221 655,222.1 653.1,221.8Z" fill="#225ea8" class="c"/>
<path d="M530,217.1 533.5,218.8 537.1,224.1 542.4,230.3 547.6,232.9 552.9,235.6 560,237.4 561.8,236.5 568.8,232.9 575.9,232.9 579.4,236.5 575.9,240 573.2,243.5 571.5,248.8 569.7,245.3 567.1,239.1 561.8,240 562.6,247.1 563.5,251.8 560.6,252.9 558.8,255.3 556.5,258.8 554.1,261.2 550.6,264.7 547.1,267.1 545.9,269.4 546.5,275.3 544.7,281.2 542.9,285.9 541.2,287.6 538.8,284.7 536.5,281.2 534.1,275.3 531.8,269.4 530,263.5 528.2,257.6 527.1,254.1 524.7,254.1 521.2,251.8 517.3,245.2 520.2,242.3 518.7,236.7 523,231 525.8,225.3 524.4,221.1 528.7,218.2Z" fill="#225ea8" class="c"/>
<path d="M546.5,283.5 548.2,283.5 550.6,287.1 551.2,290.6 548.8,292.9 547.1,291.8 546.5,287.1Z" fill="#41b6c4" class="c"/>
<path d="M561.8,240 567.1,239.1 569.7,245.3 571.5,250.6 567.9,252.4 564.4,251.5 562.6,247.1Z" fill="#7fcdbb" class="c"/>
<path d="M540.6,230.3 544.1,229.4 551.2,232.1 558.2,234.7 560,239.1 552.9,238.2 547.6,236.5 542.4,233.8ZM560.9,235.6 567.9,236.1 567.1,238.6 561.8,238.2Z" fill="#ffffcc" class="c"/>
<path d="M573.2,243.5 575.9,240 579.4,236.5 582.9,238.2 584.7,243.5 588.2,247.1 590.6,252.9 588.2,256.5 584.7,260 585.3,264.7 585.9,268.2 587.1,271.8 588.2,275.3 589.4,278.8 588,279 584.5,272 582.4,267.1 578.8,267.1 577.6,263.5 574.1,255.9 572.4,250.6Z" fill="url(#hatch)" stroke="#bbb" stroke-width=".4"/>
<path d="M592.5,254.2 595.2,252.4 598,253.3 599.8,256.1 598.9,257.9 599.8,259.7 601.6,262.5 604.4,266.1 606.2,268.9 608,271.6 605.3,271.6 603.5,269.8 601.6,266.1 598.9,262.5 596.1,261.6 593.4,261.6 592.5,258.8 593.4,256.5Z" fill="url(#hatch)" stroke="#bbb" stroke-width=".4"/>
<path d="M585.1,258.8 588.8,256.1 591.6,257 592.5,258.8 593.4,261.6 596.1,261.6 598.9,262.5 601.6,266.1 603.5,269.8 602.5,271.6 599.8,272.5 597.5,273.5 596.1,275.3 594.3,274.4 592.5,274.4 591.1,276.2 590.6,279.9 589.7,283.5 589.7,286.3 591.6,288.1 593.5,290.5 595.3,291.8 594.1,293.5 591.8,291.8 588.8,289 588.5,285 588.8,280.8 588.4,277.1 587.9,271.6 587,268 585.6,264.3 584.7,261.1ZM595.3,291.8 597.6,292.9 600,295.3 601.2,298.8 602.9,304.7 601.2,305.3 598.8,303.5 596.5,300 594.7,295.3 594.1,293.5ZM594.3,250.6 598,248.7 600.7,248.3 602.5,250.1 605.3,251.9 606.7,252.9 604.4,254.2 602.5,256.5 603.5,259.7 606.2,262.5 609.9,265.2 612.6,269.8 613.5,274.4 612.6,278 609.9,281.7 607.1,284 604.4,285.8 603.5,284.5 605.3,281.7 607.1,279 609,277.1 609,273.5 608,271.6 606.2,268.9 604.4,266.1 601.6,262.5 599.8,259.7 598.9,257.9 599.8,256.1 598,253.3 595.2,252.4Z" fill="#1d91c0" class="c"/>
<path d="M597.5,273.5 599.8,272.5 602.5,271.6 605.3,271.6 608,271.6 609,273.5 609,277.1 607.1,279 604.4,280.3 601.6,280.8 599.3,279 598,276.7Z" fill="#7fcdbb" class="c"/>
<path d="M582.8,294.7 587.7,295.4 593.4,298.9 597.7,303.2 601.9,307.4 605.5,311.7 607.6,315.9 607.6,320.2 606.2,323.7 603.3,324.4 599.8,320.9 596.2,315.9 592,310.2 588.5,304.6 584.9,299.6 582.8,296.8ZM606.2,324.4 611.8,325.8 617.5,327.2 623.2,328.7 628.8,330.1 627.4,331.5 621.7,330.8 614.7,329.4 609,328 606.2,326.5ZM631.7,331.5 637.3,330.8 645.8,330.8 645.1,332.2 637.3,332.2 631.7,332.6ZM614.7,304.6 617.5,303.2 623.2,301.7 627.4,297.5 631.7,292.5 633.8,291.1 637.3,294.7 635.9,297.5 634.5,301.7 637.3,306 634.5,308.8 631.7,311.7 630.2,317.3 627.4,318.7 623.2,317.3 618.9,315.9 616.8,313.1 615.4,308.8ZM638.7,307.4 643,306 650.1,305.3 651.5,306 645.8,308.8 643,311.7 645.8,314.5 645.8,321.6 643,322.3 641.6,317.3 640,316 638.7,318.7 637.3,315.9 638,311.7ZM657.2,303.9 659.3,307.4 658.6,310.2 657.2,308.8ZM654.3,317.3 661.4,316.6 660,318.7 654.3,318.7ZM664.2,311.7 668.5,310.2 672.7,311.7 674.2,313.8 678.4,313.8 682.6,314.5 688.3,315.9 688.3,332.2 685.5,331.5 682.6,327.2 679.8,323 677,321.6 674.2,319.4 671.3,315.9 668.5,315.2 665.7,314.5Z" fill="#1d91c0" class="c"/>
<path d="M650,330.8 655.7,330.3 655,331.8 650.5,332Z" fill="#ffffcc" class="c"/>
<path d="M637.3,261.4 640.9,260.7 641.6,264.9 640.9,269.2 643,271.3 645.8,272.7 647.2,274.8 644.4,275.5 640.9,274.8 639.4,272 638,269.2 636.6,265.6ZM643,277.7 647.2,277.7 650.1,279.1 651.5,283.3 653.6,287.6 652.9,291.8 650.1,293.2 647.2,290.4 644.4,289.7 644.4,287.6 647.2,286.2 645.8,283.3 643.7,281.2ZM637.3,280.5 635.9,283.3 633.1,286.2 632.4,285.5 634.5,282.6 636.6,280.2Z" fill="#1d91c0" class="c"/>
<path d="M614.2,398 616.4,393.7 617.1,386.7 616.4,378.2 617.8,372.5 619.9,366.8 624.2,364 629.8,361.9 636.9,359.7 640.5,356.2 644,352.7 648.2,348.4 652.5,345.6 656.7,347 659.6,344.2 662.4,340.6 666.7,338.5 670.9,340.6 675.9,340.6 673,344.2 673.7,348.4 678,352 682.2,354.8 685.1,351.2 687.2,345.6 688.6,339.9 690,337.1 692.2,341.3 693.6,347 695,352.7 696.4,358.3 700.7,362.6 703.5,369.7 705.6,375.3 704.2,382.4 700.7,389.5 695,396.6 689.3,402.2 683.7,406.5 678,409.3 672.3,407.9 666.7,405.1 664.5,400.8 663.8,395.9 661,398 658.2,398 655.3,393.7 651.1,392.3 645.4,392.3 638.3,394.5 632.7,396.6 627,398 621.3,399.4 617.1,400.1ZM668.2,413.5 672,413.3 676,414.7 674.6,420.5 671,422.6 668.5,419.5Z" fill="#1d91c0" class="c"/>
<path d="M687.3,315.8 691.7,316.9 698.2,321.3 702.5,325.6 705.8,331 709,335.3 704.7,335.3 700.3,333.2 695,331 691.7,332.1 688.4,333.2 688.3,326.7ZM704.7,322.3 711.2,320.2 715.5,319.1 713.3,323.4 706.8,324.5Z" fill="url(#hatch)" stroke="#bbb" stroke-width=".4"/>
<path d="M739.3,399.3 741.5,400.3 742.6,405.8 745.8,407.9 743.7,411.2 739.3,413.3 735,416.6 732.8,415.5 736.1,411.2 739.3,406.8 738.3,402.5ZM728.5,415.5 730.7,417.7 726.3,422 719.8,425.3 713.3,428.5 707.9,430.7 705.8,428.5 711.2,425.3 717.7,422 724.2,418.8Z" fill="#41b6c4" class="c"/>
<path d="M720,324.5 723,325.5 722.5,326.5 719.5,325.5ZM727,328 731,330.5 730,331.5 726.5,329ZM743.5,347 745,348.5 744.5,351 743,349Z" fill="#ffffcc" class="c"/>
<path d="M735,361 738.5,363.5 739,366 735.5,364ZM766,354 769.5,353.5 769,356 766.5,356Z" fill="url(#hatch)" stroke="#bbb" stroke-width=".4"/>
<path d="M9.2,256.5 11,256 12,257.5 11,259.5 9.5,259.2ZM5,252.2 7,252.6 7.5,253.8 5.5,253.4ZM8,253.8 10,254.2 9.8,255 8,254.6ZM2,251 3.5,251.2 3.3,251.9 2,251.7Z" fill="#0c2c84" class="c"/>
<path d="M0,303 1.3,303 1.3,305 0,305Z" fill="url(#hatch)" stroke="#bbb" stroke-width=".4"/>
<path d="M378.2,111.9 381.5,111.1 386.5,110.7 389.8,110.3 394.7,110 400.5,110.3 401.7,111.1 398,111.9 393.9,112.4 391.4,113.6 389.8,115.7 387.3,117.3 384.8,116.5 381.5,114.4 379.1,113.2ZM394.3,114.4 398.8,114.8 397.2,115.7 394.7,115.7Z" fill="#1d91c0" class="c"/>
<path d="M492,362 493.3,362 493.3,363.3 492,363.3Z" fill="#41b6c4" class="c"/>
<path d="M501.5,435.5 503.5,435.2 503.8,436.8 501.8,437Z" fill="url(#hatch)" stroke="#bbb" stroke-width=".4"/>
<path d="M723,327 726,328 725.5,329 722.5,328ZM729,331.5 732,333.5 731,334.3 728.5,332.5ZM733,335 735,336.5 734.3,337.2 732.5,336Z" fill="#ffffcc" class="c"/>
<path d="M305,264 306.2,264 306.2,265.2 305,265.2ZM310,265.5 311,265.5 311,267 310,267ZM307,269.3 309.5,269 309,270 307,270.2ZM324.6,273.3 330,273 330.3,274.3 324.6,274.6Z" fill="#ffffcc" class="c"/>
<path d="M230.6,136.5 232.9,134.7 237.6,134.7 238.2,137.1 235.3,138.8 231.8,138.8Z" fill="#fff"/>
<path d="M423.2,190.3 426.2,188.5 427.9,190.3 430.3,191.5 432.6,190.9 435,188.8 436.8,187.4 439.1,188 440.9,189.7 439.7,191.5 441.5,192.6 444.4,194.4 447.9,196.2 449.7,197.9 449.1,200.3 444.4,200.9 439.7,201.5 435,200.3 430.3,199.7 425.6,200.3 422.1,200.9 420.3,198.5 421.2,195.6 421.5,192.1ZM464.4,188.5 467.9,186.8 471.5,188 470.3,190.3 467.4,190.9 465.6,193.2 466.8,196.8 471.5,200.3 473.8,203.8 475,208.5 472.6,211.5 467.9,212.6 464.4,210.9 463.2,207.4 462.1,203.8 460.9,200.3 462.1,195.6 460.9,192.1 462.6,189.7Z" fill="#fff"/>
<path d="M435.2,188.2 437.5,186.9 440.3,187.1 441,188.8 438.8,189.9 436.2,189.8Z" fill="#fff"/>
</g>
<rect x="176.5" y="497" width="80.5" height="11" fill="#ffffcc" stroke="#aaa" stroke-width=".3"/>
<rect x="257" y="497" width="80.5" height="11" fill="#c7e9b4" stroke="#aaa" stroke-width=".3"/>
<rect x="337.5" y="497" width="80.5" height="11" fill="#7fcdbb" stroke="#aaa" stroke-width=".3"/>
<rect x="418" y="497" width="80.5" height="11" fill="#41b6c4" stroke="#aaa" stroke-width=".3"/>
<rect x="498.5" y="497" width="80.5" height="11" fill="#1d91c0" stroke="#aaa" stroke-width=".3"/>
<rect x="579" y="497" width="81" height="11" fill="#225ea8" stroke="#aaa" stroke-width=".3"/>
<path d="M660,497 L736,497 L740.7,502.5 L736,508 L660,508Z" fill="#0c2c84" stroke="#aaa" stroke-width=".3"/>
<line x1="176.5" y1="494" x2="176.5" y2="497" stroke="#999" stroke-width=".6"/>
<line x1="257" y1="494" x2="257" y2="497" stroke="#999" stroke-width=".6"/>
<line x1="337.5" y1="494" x2="337.5" y2="497" stroke="#999" stroke-width=".6"/>
<line x1="418" y1="494" x2="418" y2="497" stroke="#999" stroke-width=".6"/>
<line x1="498.5" y1="494" x2="498.5" y2="497" stroke="#999" stroke-width=".6"/>
<line x1="579" y1="494" x2="579" y2="497" stroke="#999" stroke-width=".6"/>
<line x1="660" y1="494" x2="660" y2="497" stroke="#999" stroke-width=".6"/>
<rect x="109.6" y="497" width="47" height="11.2" fill="url(#hatch2)" stroke="#c8c8c8" stroke-width=".9"/>
<line x1="133" y1="494.4" x2="133" y2="496.6" stroke="#999" stroke-width=".6"/>
<text x="133" y="489.8" text-anchor="middle" class="lg">No data</text>
<text x="176.5" y="489.8" text-anchor="middle" class="lg">$0</text>
<text x="257" y="489.8" text-anchor="middle" class="lg">$5 billion</text>
<text x="337.5" y="489.8" text-anchor="middle" class="lg">$10 billion</text>
<text x="418" y="489.8" text-anchor="middle" class="lg">$50 billion</text>
<text x="498.5" y="489.8" text-anchor="middle" class="lg">$100 billion</text>
<text x="579" y="489.8" text-anchor="middle" class="lg">$500 billion</text>
<text x="660" y="489.8" text-anchor="middle" class="lg">$1 trillion</text>
</svg>
<div class="f" style="top:529.6px"><b>Data source:</b> National statistical organizations and central banks, OECD national accounts, and World Bank staff estimates (2026)</div>
<div class="f" style="top:549.5px"><b>Note:</b> This data is expressed in constant 2015 US$.</div>
<div class="f" style="top:569.4px">OurWorldinData.org/trade-and-globalization | CC BY</div>
</body></html>
